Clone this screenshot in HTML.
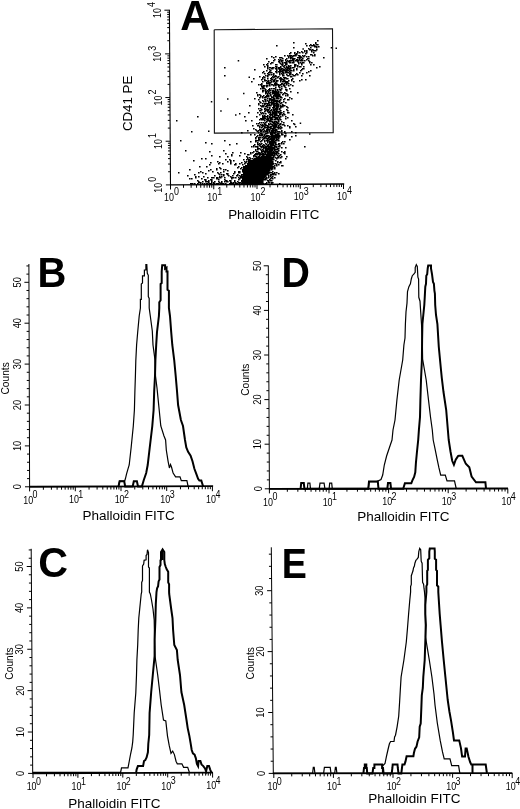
<!DOCTYPE html>
<html><head><meta charset="utf-8"><style>
html,body{margin:0;padding:0;background:#fff;}
svg{display:block;will-change:transform;}
</style></head><body>
<svg width="520" height="809" viewBox="0 0 520 809">
<rect width="520" height="809" fill="#fff"/>
<line x1="169.40" y1="9.80" x2="170.50" y2="184.90" stroke="#000" stroke-width="1.1"/>
<line x1="170.00" y1="184.90" x2="344.20" y2="184.00" stroke="#000" stroke-width="1.4"/>
<line x1="165.90" y1="184.90" x2="170.50" y2="184.90" stroke="#000" stroke-width="1.0"/>
<line x1="170.50" y1="184.90" x2="170.50" y2="189.50" stroke="#000" stroke-width="1.0"/>
<line x1="168.12" y1="171.75" x2="170.42" y2="171.75" stroke="#000" stroke-width="1.0"/>
<line x1="183.52" y1="184.83" x2="183.52" y2="187.83" stroke="#000" stroke-width="1.0"/>
<line x1="168.07" y1="164.06" x2="170.37" y2="164.06" stroke="#000" stroke-width="1.0"/>
<line x1="191.14" y1="184.79" x2="191.14" y2="187.79" stroke="#000" stroke-width="1.0"/>
<line x1="168.03" y1="158.61" x2="170.33" y2="158.61" stroke="#000" stroke-width="1.0"/>
<line x1="196.54" y1="184.77" x2="196.54" y2="187.77" stroke="#000" stroke-width="1.0"/>
<line x1="168.01" y1="154.37" x2="170.31" y2="154.37" stroke="#000" stroke-width="1.0"/>
<line x1="200.73" y1="184.74" x2="200.73" y2="187.74" stroke="#000" stroke-width="1.0"/>
<line x1="167.99" y1="150.91" x2="170.29" y2="150.91" stroke="#000" stroke-width="1.0"/>
<line x1="204.16" y1="184.73" x2="204.16" y2="187.73" stroke="#000" stroke-width="1.0"/>
<line x1="167.97" y1="147.99" x2="170.27" y2="147.99" stroke="#000" stroke-width="1.0"/>
<line x1="207.05" y1="184.71" x2="207.05" y2="187.71" stroke="#000" stroke-width="1.0"/>
<line x1="167.95" y1="145.46" x2="170.25" y2="145.46" stroke="#000" stroke-width="1.0"/>
<line x1="209.56" y1="184.70" x2="209.56" y2="187.70" stroke="#000" stroke-width="1.0"/>
<line x1="167.94" y1="143.22" x2="170.24" y2="143.22" stroke="#000" stroke-width="1.0"/>
<line x1="211.77" y1="184.69" x2="211.77" y2="187.69" stroke="#000" stroke-width="1.0"/>
<line x1="165.63" y1="141.22" x2="170.23" y2="141.22" stroke="#000" stroke-width="1.0"/>
<line x1="213.75" y1="184.68" x2="213.75" y2="189.28" stroke="#000" stroke-width="1.0"/>
<line x1="167.84" y1="128.08" x2="170.14" y2="128.08" stroke="#000" stroke-width="1.0"/>
<line x1="226.77" y1="184.61" x2="226.77" y2="187.61" stroke="#000" stroke-width="1.0"/>
<line x1="167.79" y1="120.39" x2="170.09" y2="120.39" stroke="#000" stroke-width="1.0"/>
<line x1="234.39" y1="184.57" x2="234.39" y2="187.57" stroke="#000" stroke-width="1.0"/>
<line x1="167.76" y1="114.93" x2="170.06" y2="114.93" stroke="#000" stroke-width="1.0"/>
<line x1="239.79" y1="184.54" x2="239.79" y2="187.54" stroke="#000" stroke-width="1.0"/>
<line x1="167.73" y1="110.70" x2="170.03" y2="110.70" stroke="#000" stroke-width="1.0"/>
<line x1="243.98" y1="184.52" x2="243.98" y2="187.52" stroke="#000" stroke-width="1.0"/>
<line x1="167.71" y1="107.24" x2="170.01" y2="107.24" stroke="#000" stroke-width="1.0"/>
<line x1="247.41" y1="184.50" x2="247.41" y2="187.50" stroke="#000" stroke-width="1.0"/>
<line x1="167.69" y1="104.32" x2="169.99" y2="104.32" stroke="#000" stroke-width="1.0"/>
<line x1="250.30" y1="184.49" x2="250.30" y2="187.49" stroke="#000" stroke-width="1.0"/>
<line x1="167.68" y1="101.78" x2="169.98" y2="101.78" stroke="#000" stroke-width="1.0"/>
<line x1="252.81" y1="184.47" x2="252.81" y2="187.47" stroke="#000" stroke-width="1.0"/>
<line x1="167.66" y1="99.55" x2="169.96" y2="99.55" stroke="#000" stroke-width="1.0"/>
<line x1="255.02" y1="184.46" x2="255.02" y2="187.46" stroke="#000" stroke-width="1.0"/>
<line x1="165.35" y1="97.55" x2="169.95" y2="97.55" stroke="#000" stroke-width="1.0"/>
<line x1="257.00" y1="184.45" x2="257.00" y2="189.05" stroke="#000" stroke-width="1.0"/>
<line x1="167.57" y1="84.40" x2="169.87" y2="84.40" stroke="#000" stroke-width="1.0"/>
<line x1="270.02" y1="184.38" x2="270.02" y2="187.38" stroke="#000" stroke-width="1.0"/>
<line x1="167.52" y1="76.71" x2="169.82" y2="76.71" stroke="#000" stroke-width="1.0"/>
<line x1="277.64" y1="184.34" x2="277.64" y2="187.34" stroke="#000" stroke-width="1.0"/>
<line x1="167.49" y1="71.26" x2="169.79" y2="71.26" stroke="#000" stroke-width="1.0"/>
<line x1="283.04" y1="184.32" x2="283.04" y2="187.32" stroke="#000" stroke-width="1.0"/>
<line x1="167.46" y1="67.02" x2="169.76" y2="67.02" stroke="#000" stroke-width="1.0"/>
<line x1="287.23" y1="184.30" x2="287.23" y2="187.30" stroke="#000" stroke-width="1.0"/>
<line x1="167.44" y1="63.56" x2="169.74" y2="63.56" stroke="#000" stroke-width="1.0"/>
<line x1="290.66" y1="184.28" x2="290.66" y2="187.28" stroke="#000" stroke-width="1.0"/>
<line x1="167.42" y1="60.64" x2="169.72" y2="60.64" stroke="#000" stroke-width="1.0"/>
<line x1="293.55" y1="184.26" x2="293.55" y2="187.26" stroke="#000" stroke-width="1.0"/>
<line x1="167.40" y1="58.11" x2="169.70" y2="58.11" stroke="#000" stroke-width="1.0"/>
<line x1="296.06" y1="184.25" x2="296.06" y2="187.25" stroke="#000" stroke-width="1.0"/>
<line x1="167.39" y1="55.87" x2="169.69" y2="55.87" stroke="#000" stroke-width="1.0"/>
<line x1="298.27" y1="184.24" x2="298.27" y2="187.24" stroke="#000" stroke-width="1.0"/>
<line x1="165.08" y1="53.88" x2="169.68" y2="53.88" stroke="#000" stroke-width="1.0"/>
<line x1="300.25" y1="184.23" x2="300.25" y2="188.83" stroke="#000" stroke-width="1.0"/>
<line x1="167.29" y1="40.73" x2="169.59" y2="40.73" stroke="#000" stroke-width="1.0"/>
<line x1="313.27" y1="184.16" x2="313.27" y2="187.16" stroke="#000" stroke-width="1.0"/>
<line x1="167.25" y1="33.04" x2="169.55" y2="33.04" stroke="#000" stroke-width="1.0"/>
<line x1="320.89" y1="184.12" x2="320.89" y2="187.12" stroke="#000" stroke-width="1.0"/>
<line x1="167.21" y1="27.58" x2="169.51" y2="27.58" stroke="#000" stroke-width="1.0"/>
<line x1="326.29" y1="184.09" x2="326.29" y2="187.09" stroke="#000" stroke-width="1.0"/>
<line x1="167.19" y1="23.35" x2="169.49" y2="23.35" stroke="#000" stroke-width="1.0"/>
<line x1="330.48" y1="184.07" x2="330.48" y2="187.07" stroke="#000" stroke-width="1.0"/>
<line x1="167.16" y1="19.89" x2="169.46" y2="19.89" stroke="#000" stroke-width="1.0"/>
<line x1="333.91" y1="184.05" x2="333.91" y2="187.05" stroke="#000" stroke-width="1.0"/>
<line x1="167.15" y1="16.97" x2="169.45" y2="16.97" stroke="#000" stroke-width="1.0"/>
<line x1="336.80" y1="184.04" x2="336.80" y2="187.04" stroke="#000" stroke-width="1.0"/>
<line x1="167.13" y1="14.43" x2="169.43" y2="14.43" stroke="#000" stroke-width="1.0"/>
<line x1="339.31" y1="184.03" x2="339.31" y2="187.03" stroke="#000" stroke-width="1.0"/>
<line x1="167.12" y1="12.20" x2="169.42" y2="12.20" stroke="#000" stroke-width="1.0"/>
<line x1="341.52" y1="184.01" x2="341.52" y2="187.01" stroke="#000" stroke-width="1.0"/>
<line x1="164.40" y1="10.20" x2="169.40" y2="10.20" stroke="#000" stroke-width="1.0"/>
<line x1="343.50" y1="184.00" x2="343.50" y2="189.00" stroke="#000" stroke-width="1.0"/>
<text transform="translate(162.10,187.80) rotate(-90) scale(0.85,1)" font-size="10.5" text-anchor="middle" font-weight="normal" fill="#000" font-family="'Liberation Sans', sans-serif">10</text>
<text transform="translate(156.40,181.80) rotate(-90) scale(0.85,1)" font-size="10.5" text-anchor="start" font-weight="normal" fill="#000" font-family="'Liberation Sans', sans-serif">0</text>
<text transform="translate(161.83,144.12) rotate(-90) scale(0.85,1)" font-size="10.5" text-anchor="middle" font-weight="normal" fill="#000" font-family="'Liberation Sans', sans-serif">10</text>
<text transform="translate(156.13,138.12) rotate(-90) scale(0.85,1)" font-size="10.5" text-anchor="start" font-weight="normal" fill="#000" font-family="'Liberation Sans', sans-serif">1</text>
<text transform="translate(161.55,100.45) rotate(-90) scale(0.85,1)" font-size="10.5" text-anchor="middle" font-weight="normal" fill="#000" font-family="'Liberation Sans', sans-serif">10</text>
<text transform="translate(155.85,94.45) rotate(-90) scale(0.85,1)" font-size="10.5" text-anchor="start" font-weight="normal" fill="#000" font-family="'Liberation Sans', sans-serif">2</text>
<text transform="translate(161.28,56.77) rotate(-90) scale(0.85,1)" font-size="10.5" text-anchor="middle" font-weight="normal" fill="#000" font-family="'Liberation Sans', sans-serif">10</text>
<text transform="translate(155.58,50.77) rotate(-90) scale(0.85,1)" font-size="10.5" text-anchor="start" font-weight="normal" fill="#000" font-family="'Liberation Sans', sans-serif">3</text>
<text transform="translate(161.00,13.10) rotate(-90) scale(0.85,1)" font-size="10.5" text-anchor="middle" font-weight="normal" fill="#000" font-family="'Liberation Sans', sans-serif">10</text>
<text transform="translate(155.30,7.10) rotate(-90) scale(0.85,1)" font-size="10.5" text-anchor="start" font-weight="normal" fill="#000" font-family="'Liberation Sans', sans-serif">4</text>
<text transform="translate(168.90,201.10) scale(0.85,1)" font-size="10.5" text-anchor="middle" font-weight="normal" fill="#000" font-family="'Liberation Sans', sans-serif">10</text>
<text transform="translate(173.90,195.30) scale(0.85,1)" font-size="10.5" text-anchor="start" font-weight="normal" fill="#000" font-family="'Liberation Sans', sans-serif">0</text>
<text transform="translate(212.15,200.88) scale(0.85,1)" font-size="10.5" text-anchor="middle" font-weight="normal" fill="#000" font-family="'Liberation Sans', sans-serif">10</text>
<text transform="translate(217.15,195.08) scale(0.85,1)" font-size="10.5" text-anchor="start" font-weight="normal" fill="#000" font-family="'Liberation Sans', sans-serif">1</text>
<text transform="translate(255.40,200.65) scale(0.85,1)" font-size="10.5" text-anchor="middle" font-weight="normal" fill="#000" font-family="'Liberation Sans', sans-serif">10</text>
<text transform="translate(260.40,194.85) scale(0.85,1)" font-size="10.5" text-anchor="start" font-weight="normal" fill="#000" font-family="'Liberation Sans', sans-serif">2</text>
<text transform="translate(298.65,200.43) scale(0.85,1)" font-size="10.5" text-anchor="middle" font-weight="normal" fill="#000" font-family="'Liberation Sans', sans-serif">10</text>
<text transform="translate(303.65,194.63) scale(0.85,1)" font-size="10.5" text-anchor="start" font-weight="normal" fill="#000" font-family="'Liberation Sans', sans-serif">3</text>
<text transform="translate(341.90,200.20) scale(0.85,1)" font-size="10.5" text-anchor="middle" font-weight="normal" fill="#000" font-family="'Liberation Sans', sans-serif">10</text>
<text transform="translate(346.90,194.40) scale(0.85,1)" font-size="10.5" text-anchor="start" font-weight="normal" fill="#000" font-family="'Liberation Sans', sans-serif">4</text>
<text transform="translate(228.20,219.20)" font-size="13.35" text-anchor="start" font-weight="normal" fill="#000" font-family="'Liberation Sans', sans-serif">Phalloidin FITC</text>
<text transform="translate(132.00,103.40) rotate(-90)" font-size="13.3" text-anchor="middle" font-weight="normal" fill="#000" font-family="'Liberation Sans', sans-serif">CD41 PE</text>
<text transform="translate(180.30,29.50) scale(0.96,1)" font-size="43" text-anchor="start" font-weight="bold" fill="#000" font-family="'Liberation Sans', sans-serif">A</text>
<polyline points="214.20,29.80 332.50,28.70 333.20,132.60 214.40,133.10 214.20,29.80" fill="none" stroke="#111" stroke-width="1.1" stroke-linejoin="miter"/>
<path d="M317 40h1.6v1.6h-1.6zM293 42h1.6v1.6h-1.6zM315 42h1.6v1.6h-1.6zM305 43h1.6v1.6h-1.6zM315 43h1.6v1.6h-1.6zM310 44h1.6v1.6h-1.6zM313 44h1.6v1.6h-1.6zM316 44h1.6v1.6h-1.6zM317 44h1.6v1.6h-1.6zM276 45h1.6v1.6h-1.6zM306 45h1.6v1.6h-1.6zM309 45h1.6v1.6h-1.6zM311 45h1.6v1.6h-1.6zM312 45h1.6v1.6h-1.6zM313 45h1.6v1.6h-1.6zM314 45h1.6v1.6h-1.6zM314 46h1.6v1.6h-1.6zM315 46h1.6v1.6h-1.6zM316 46h1.6v1.6h-1.6zM318 46h1.6v1.6h-1.6zM293 47h1.6v1.6h-1.6zM310 47h1.6v1.6h-1.6zM316 47h1.6v1.6h-1.6zM308 48h1.6v1.6h-1.6zM309 49h1.6v1.6h-1.6zM310 49h1.6v1.6h-1.6zM312 49h1.6v1.6h-1.6zM316 49h1.6v1.6h-1.6zM304 50h1.6v1.6h-1.6zM306 50h1.6v1.6h-1.6zM311 50h1.6v1.6h-1.6zM313 50h1.6v1.6h-1.6zM314 50h1.6v1.6h-1.6zM315 50h1.6v1.6h-1.6zM297 51h1.6v1.6h-1.6zM301 51h1.6v1.6h-1.6zM304 51h1.6v1.6h-1.6zM306 51h1.6v1.6h-1.6zM311 51h1.6v1.6h-1.6zM290 52h1.6v1.6h-1.6zM294 52h1.6v1.6h-1.6zM297 52h1.6v1.6h-1.6zM299 52h1.6v1.6h-1.6zM302 52h1.6v1.6h-1.6zM306 52h1.6v1.6h-1.6zM313 52h1.6v1.6h-1.6zM289 53h1.6v1.6h-1.6zM294 53h1.6v1.6h-1.6zM296 53h1.6v1.6h-1.6zM305 53h1.6v1.6h-1.6zM295 54h1.6v1.6h-1.6zM296 54h1.6v1.6h-1.6zM310 54h1.6v1.6h-1.6zM311 54h1.6v1.6h-1.6zM314 54h1.6v1.6h-1.6zM284 55h1.6v1.6h-1.6zM287 55h1.6v1.6h-1.6zM289 55h1.6v1.6h-1.6zM290 55h1.6v1.6h-1.6zM291 55h1.6v1.6h-1.6zM293 55h1.6v1.6h-1.6zM294 55h1.6v1.6h-1.6zM295 55h1.6v1.6h-1.6zM298 55h1.6v1.6h-1.6zM299 55h1.6v1.6h-1.6zM302 55h1.6v1.6h-1.6zM304 55h1.6v1.6h-1.6zM312 55h1.6v1.6h-1.6zM314 55h1.6v1.6h-1.6zM271 56h1.6v1.6h-1.6zM275 56h1.6v1.6h-1.6zM288 56h1.6v1.6h-1.6zM290 56h1.6v1.6h-1.6zM292 56h1.6v1.6h-1.6zM299 56h1.6v1.6h-1.6zM300 56h1.6v1.6h-1.6zM303 56h1.6v1.6h-1.6zM306 56h1.6v1.6h-1.6zM308 56h1.6v1.6h-1.6zM273 57h1.6v1.6h-1.6zM279 57h1.6v1.6h-1.6zM280 57h1.6v1.6h-1.6zM281 57h1.6v1.6h-1.6zM288 57h1.6v1.6h-1.6zM290 57h1.6v1.6h-1.6zM291 57h1.6v1.6h-1.6zM297 57h1.6v1.6h-1.6zM298 57h1.6v1.6h-1.6zM299 57h1.6v1.6h-1.6zM300 57h1.6v1.6h-1.6zM301 57h1.6v1.6h-1.6zM323 57h1.6v1.6h-1.6zM266 58h1.6v1.6h-1.6zM282 58h1.6v1.6h-1.6zM286 58h1.6v1.6h-1.6zM290 58h1.6v1.6h-1.6zM292 58h1.6v1.6h-1.6zM293 58h1.6v1.6h-1.6zM294 58h1.6v1.6h-1.6zM299 58h1.6v1.6h-1.6zM302 58h1.6v1.6h-1.6zM307 58h1.6v1.6h-1.6zM308 58h1.6v1.6h-1.6zM274 59h1.6v1.6h-1.6zM278 59h1.6v1.6h-1.6zM280 59h1.6v1.6h-1.6zM285 59h1.6v1.6h-1.6zM292 59h1.6v1.6h-1.6zM293 59h1.6v1.6h-1.6zM296 59h1.6v1.6h-1.6zM297 59h1.6v1.6h-1.6zM299 59h1.6v1.6h-1.6zM301 59h1.6v1.6h-1.6zM306 59h1.6v1.6h-1.6zM273 60h1.6v1.6h-1.6zM279 60h1.6v1.6h-1.6zM281 60h1.6v1.6h-1.6zM282 60h1.6v1.6h-1.6zM285 60h1.6v1.6h-1.6zM287 60h1.6v1.6h-1.6zM289 60h1.6v1.6h-1.6zM290 60h1.6v1.6h-1.6zM291 60h1.6v1.6h-1.6zM292 60h1.6v1.6h-1.6zM293 60h1.6v1.6h-1.6zM295 60h1.6v1.6h-1.6zM296 60h1.6v1.6h-1.6zM297 60h1.6v1.6h-1.6zM298 60h1.6v1.6h-1.6zM300 60h1.6v1.6h-1.6zM301 60h1.6v1.6h-1.6zM302 60h1.6v1.6h-1.6zM304 60h1.6v1.6h-1.6zM308 60h1.6v1.6h-1.6zM268 61h1.6v1.6h-1.6zM278 61h1.6v1.6h-1.6zM279 61h1.6v1.6h-1.6zM281 61h1.6v1.6h-1.6zM286 61h1.6v1.6h-1.6zM288 61h1.6v1.6h-1.6zM289 61h1.6v1.6h-1.6zM293 61h1.6v1.6h-1.6zM297 61h1.6v1.6h-1.6zM309 61h1.6v1.6h-1.6zM271 62h1.6v1.6h-1.6zM272 62h1.6v1.6h-1.6zM279 62h1.6v1.6h-1.6zM282 62h1.6v1.6h-1.6zM284 62h1.6v1.6h-1.6zM285 62h1.6v1.6h-1.6zM286 62h1.6v1.6h-1.6zM289 62h1.6v1.6h-1.6zM290 62h1.6v1.6h-1.6zM292 62h1.6v1.6h-1.6zM293 62h1.6v1.6h-1.6zM298 62h1.6v1.6h-1.6zM300 62h1.6v1.6h-1.6zM302 62h1.6v1.6h-1.6zM303 62h1.6v1.6h-1.6zM309 62h1.6v1.6h-1.6zM311 62h1.6v1.6h-1.6zM267 63h1.6v1.6h-1.6zM270 63h1.6v1.6h-1.6zM280 63h1.6v1.6h-1.6zM282 63h1.6v1.6h-1.6zM285 63h1.6v1.6h-1.6zM286 63h1.6v1.6h-1.6zM298 63h1.6v1.6h-1.6zM301 63h1.6v1.6h-1.6zM263 64h1.6v1.6h-1.6zM266 64h1.6v1.6h-1.6zM275 64h1.6v1.6h-1.6zM276 64h1.6v1.6h-1.6zM281 64h1.6v1.6h-1.6zM282 64h1.6v1.6h-1.6zM285 64h1.6v1.6h-1.6zM286 64h1.6v1.6h-1.6zM294 64h1.6v1.6h-1.6zM295 64h1.6v1.6h-1.6zM301 64h1.6v1.6h-1.6zM310 64h1.6v1.6h-1.6zM313 64h1.6v1.6h-1.6zM267 65h1.6v1.6h-1.6zM282 65h1.6v1.6h-1.6zM284 65h1.6v1.6h-1.6zM288 65h1.6v1.6h-1.6zM290 65h1.6v1.6h-1.6zM294 65h1.6v1.6h-1.6zM295 65h1.6v1.6h-1.6zM297 65h1.6v1.6h-1.6zM264 66h1.6v1.6h-1.6zM267 66h1.6v1.6h-1.6zM275 66h1.6v1.6h-1.6zM276 66h1.6v1.6h-1.6zM280 66h1.6v1.6h-1.6zM283 66h1.6v1.6h-1.6zM286 66h1.6v1.6h-1.6zM288 66h1.6v1.6h-1.6zM289 66h1.6v1.6h-1.6zM294 66h1.6v1.6h-1.6zM297 66h1.6v1.6h-1.6zM299 66h1.6v1.6h-1.6zM300 66h1.6v1.6h-1.6zM303 66h1.6v1.6h-1.6zM319 66h1.6v1.6h-1.6zM224 67h1.6v1.6h-1.6zM267 67h1.6v1.6h-1.6zM269 67h1.6v1.6h-1.6zM270 67h1.6v1.6h-1.6zM272 67h1.6v1.6h-1.6zM273 67h1.6v1.6h-1.6zM276 67h1.6v1.6h-1.6zM278 67h1.6v1.6h-1.6zM279 67h1.6v1.6h-1.6zM280 67h1.6v1.6h-1.6zM284 67h1.6v1.6h-1.6zM286 67h1.6v1.6h-1.6zM287 67h1.6v1.6h-1.6zM288 67h1.6v1.6h-1.6zM290 67h1.6v1.6h-1.6zM292 67h1.6v1.6h-1.6zM293 67h1.6v1.6h-1.6zM316 67h1.6v1.6h-1.6zM267 68h1.6v1.6h-1.6zM271 68h1.6v1.6h-1.6zM272 68h1.6v1.6h-1.6zM275 68h1.6v1.6h-1.6zM276 68h1.6v1.6h-1.6zM278 68h1.6v1.6h-1.6zM279 68h1.6v1.6h-1.6zM281 68h1.6v1.6h-1.6zM282 68h1.6v1.6h-1.6zM285 68h1.6v1.6h-1.6zM287 68h1.6v1.6h-1.6zM288 68h1.6v1.6h-1.6zM289 68h1.6v1.6h-1.6zM290 68h1.6v1.6h-1.6zM296 68h1.6v1.6h-1.6zM302 68h1.6v1.6h-1.6zM303 68h1.6v1.6h-1.6zM254 69h1.6v1.6h-1.6zM269 69h1.6v1.6h-1.6zM276 69h1.6v1.6h-1.6zM279 69h1.6v1.6h-1.6zM280 69h1.6v1.6h-1.6zM281 69h1.6v1.6h-1.6zM283 69h1.6v1.6h-1.6zM284 69h1.6v1.6h-1.6zM286 69h1.6v1.6h-1.6zM287 69h1.6v1.6h-1.6zM289 69h1.6v1.6h-1.6zM293 69h1.6v1.6h-1.6zM296 69h1.6v1.6h-1.6zM301 69h1.6v1.6h-1.6zM266 70h1.6v1.6h-1.6zM270 70h1.6v1.6h-1.6zM276 70h1.6v1.6h-1.6zM279 70h1.6v1.6h-1.6zM280 70h1.6v1.6h-1.6zM282 70h1.6v1.6h-1.6zM283 70h1.6v1.6h-1.6zM284 70h1.6v1.6h-1.6zM285 70h1.6v1.6h-1.6zM286 70h1.6v1.6h-1.6zM287 70h1.6v1.6h-1.6zM288 70h1.6v1.6h-1.6zM290 70h1.6v1.6h-1.6zM291 70h1.6v1.6h-1.6zM293 70h1.6v1.6h-1.6zM300 70h1.6v1.6h-1.6zM310 70h1.6v1.6h-1.6zM263 71h1.6v1.6h-1.6zM269 71h1.6v1.6h-1.6zM275 71h1.6v1.6h-1.6zM276 71h1.6v1.6h-1.6zM278 71h1.6v1.6h-1.6zM279 71h1.6v1.6h-1.6zM280 71h1.6v1.6h-1.6zM281 71h1.6v1.6h-1.6zM282 71h1.6v1.6h-1.6zM285 71h1.6v1.6h-1.6zM286 71h1.6v1.6h-1.6zM289 71h1.6v1.6h-1.6zM308 71h1.6v1.6h-1.6zM262 72h1.6v1.6h-1.6zM268 72h1.6v1.6h-1.6zM269 72h1.6v1.6h-1.6zM270 72h1.6v1.6h-1.6zM271 72h1.6v1.6h-1.6zM276 72h1.6v1.6h-1.6zM279 72h1.6v1.6h-1.6zM282 72h1.6v1.6h-1.6zM283 72h1.6v1.6h-1.6zM285 72h1.6v1.6h-1.6zM286 72h1.6v1.6h-1.6zM287 72h1.6v1.6h-1.6zM288 72h1.6v1.6h-1.6zM290 72h1.6v1.6h-1.6zM299 72h1.6v1.6h-1.6zM306 72h1.6v1.6h-1.6zM264 73h1.6v1.6h-1.6zM267 73h1.6v1.6h-1.6zM273 73h1.6v1.6h-1.6zM279 73h1.6v1.6h-1.6zM281 73h1.6v1.6h-1.6zM283 73h1.6v1.6h-1.6zM289 73h1.6v1.6h-1.6zM290 73h1.6v1.6h-1.6zM296 73h1.6v1.6h-1.6zM302 73h1.6v1.6h-1.6zM268 74h1.6v1.6h-1.6zM269 74h1.6v1.6h-1.6zM271 74h1.6v1.6h-1.6zM273 74h1.6v1.6h-1.6zM279 74h1.6v1.6h-1.6zM282 74h1.6v1.6h-1.6zM286 74h1.6v1.6h-1.6zM289 74h1.6v1.6h-1.6zM290 74h1.6v1.6h-1.6zM292 74h1.6v1.6h-1.6zM295 74h1.6v1.6h-1.6zM297 74h1.6v1.6h-1.6zM224 75h1.6v1.6h-1.6zM265 75h1.6v1.6h-1.6zM267 75h1.6v1.6h-1.6zM273 75h1.6v1.6h-1.6zM275 75h1.6v1.6h-1.6zM282 75h1.6v1.6h-1.6zM283 75h1.6v1.6h-1.6zM287 75h1.6v1.6h-1.6zM288 75h1.6v1.6h-1.6zM293 75h1.6v1.6h-1.6zM294 75h1.6v1.6h-1.6zM301 75h1.6v1.6h-1.6zM309 75h1.6v1.6h-1.6zM259 76h1.6v1.6h-1.6zM263 76h1.6v1.6h-1.6zM267 76h1.6v1.6h-1.6zM272 76h1.6v1.6h-1.6zM274 76h1.6v1.6h-1.6zM275 76h1.6v1.6h-1.6zM276 76h1.6v1.6h-1.6zM278 76h1.6v1.6h-1.6zM290 76h1.6v1.6h-1.6zM291 76h1.6v1.6h-1.6zM262 77h1.6v1.6h-1.6zM264 77h1.6v1.6h-1.6zM271 77h1.6v1.6h-1.6zM273 77h1.6v1.6h-1.6zM277 77h1.6v1.6h-1.6zM280 77h1.6v1.6h-1.6zM283 77h1.6v1.6h-1.6zM284 77h1.6v1.6h-1.6zM285 77h1.6v1.6h-1.6zM253 78h1.6v1.6h-1.6zM262 78h1.6v1.6h-1.6zM267 78h1.6v1.6h-1.6zM270 78h1.6v1.6h-1.6zM271 78h1.6v1.6h-1.6zM275 78h1.6v1.6h-1.6zM279 78h1.6v1.6h-1.6zM280 78h1.6v1.6h-1.6zM281 78h1.6v1.6h-1.6zM284 78h1.6v1.6h-1.6zM286 78h1.6v1.6h-1.6zM287 78h1.6v1.6h-1.6zM292 78h1.6v1.6h-1.6zM261 79h1.6v1.6h-1.6zM264 79h1.6v1.6h-1.6zM271 79h1.6v1.6h-1.6zM272 79h1.6v1.6h-1.6zM274 79h1.6v1.6h-1.6zM280 79h1.6v1.6h-1.6zM281 79h1.6v1.6h-1.6zM282 79h1.6v1.6h-1.6zM283 79h1.6v1.6h-1.6zM291 79h1.6v1.6h-1.6zM301 79h1.6v1.6h-1.6zM305 79h1.6v1.6h-1.6zM264 80h1.6v1.6h-1.6zM265 80h1.6v1.6h-1.6zM266 80h1.6v1.6h-1.6zM268 80h1.6v1.6h-1.6zM270 80h1.6v1.6h-1.6zM273 80h1.6v1.6h-1.6zM274 80h1.6v1.6h-1.6zM276 80h1.6v1.6h-1.6zM277 80h1.6v1.6h-1.6zM280 80h1.6v1.6h-1.6zM283 80h1.6v1.6h-1.6zM284 80h1.6v1.6h-1.6zM288 80h1.6v1.6h-1.6zM291 80h1.6v1.6h-1.6zM299 80h1.6v1.6h-1.6zM251 81h1.6v1.6h-1.6zM262 81h1.6v1.6h-1.6zM267 81h1.6v1.6h-1.6zM268 81h1.6v1.6h-1.6zM271 81h1.6v1.6h-1.6zM273 81h1.6v1.6h-1.6zM274 81h1.6v1.6h-1.6zM276 81h1.6v1.6h-1.6zM280 81h1.6v1.6h-1.6zM282 81h1.6v1.6h-1.6zM283 81h1.6v1.6h-1.6zM284 81h1.6v1.6h-1.6zM285 81h1.6v1.6h-1.6zM286 81h1.6v1.6h-1.6zM287 81h1.6v1.6h-1.6zM293 81h1.6v1.6h-1.6zM266 82h1.6v1.6h-1.6zM268 82h1.6v1.6h-1.6zM269 82h1.6v1.6h-1.6zM270 82h1.6v1.6h-1.6zM275 82h1.6v1.6h-1.6zM285 82h1.6v1.6h-1.6zM286 82h1.6v1.6h-1.6zM287 82h1.6v1.6h-1.6zM261 83h1.6v1.6h-1.6zM266 83h1.6v1.6h-1.6zM267 83h1.6v1.6h-1.6zM268 83h1.6v1.6h-1.6zM269 83h1.6v1.6h-1.6zM274 83h1.6v1.6h-1.6zM275 83h1.6v1.6h-1.6zM276 83h1.6v1.6h-1.6zM281 83h1.6v1.6h-1.6zM282 83h1.6v1.6h-1.6zM284 83h1.6v1.6h-1.6zM286 83h1.6v1.6h-1.6zM288 83h1.6v1.6h-1.6zM258 84h1.6v1.6h-1.6zM260 84h1.6v1.6h-1.6zM261 84h1.6v1.6h-1.6zM269 84h1.6v1.6h-1.6zM271 84h1.6v1.6h-1.6zM272 84h1.6v1.6h-1.6zM274 84h1.6v1.6h-1.6zM275 84h1.6v1.6h-1.6zM276 84h1.6v1.6h-1.6zM277 84h1.6v1.6h-1.6zM278 84h1.6v1.6h-1.6zM280 84h1.6v1.6h-1.6zM281 84h1.6v1.6h-1.6zM283 84h1.6v1.6h-1.6zM286 84h1.6v1.6h-1.6zM290 84h1.6v1.6h-1.6zM261 85h1.6v1.6h-1.6zM263 85h1.6v1.6h-1.6zM264 85h1.6v1.6h-1.6zM266 85h1.6v1.6h-1.6zM267 85h1.6v1.6h-1.6zM269 85h1.6v1.6h-1.6zM273 85h1.6v1.6h-1.6zM275 85h1.6v1.6h-1.6zM278 85h1.6v1.6h-1.6zM279 85h1.6v1.6h-1.6zM283 85h1.6v1.6h-1.6zM284 85h1.6v1.6h-1.6zM288 85h1.6v1.6h-1.6zM292 85h1.6v1.6h-1.6zM261 86h1.6v1.6h-1.6zM262 86h1.6v1.6h-1.6zM263 86h1.6v1.6h-1.6zM266 86h1.6v1.6h-1.6zM278 86h1.6v1.6h-1.6zM281 86h1.6v1.6h-1.6zM284 86h1.6v1.6h-1.6zM262 87h1.6v1.6h-1.6zM263 87h1.6v1.6h-1.6zM275 87h1.6v1.6h-1.6zM279 87h1.6v1.6h-1.6zM285 87h1.6v1.6h-1.6zM260 88h1.6v1.6h-1.6zM262 88h1.6v1.6h-1.6zM263 88h1.6v1.6h-1.6zM264 88h1.6v1.6h-1.6zM269 88h1.6v1.6h-1.6zM271 88h1.6v1.6h-1.6zM273 88h1.6v1.6h-1.6zM274 88h1.6v1.6h-1.6zM281 88h1.6v1.6h-1.6zM289 88h1.6v1.6h-1.6zM265 89h1.6v1.6h-1.6zM268 89h1.6v1.6h-1.6zM269 89h1.6v1.6h-1.6zM275 89h1.6v1.6h-1.6zM277 89h1.6v1.6h-1.6zM279 89h1.6v1.6h-1.6zM280 89h1.6v1.6h-1.6zM285 89h1.6v1.6h-1.6zM286 89h1.6v1.6h-1.6zM262 90h1.6v1.6h-1.6zM263 90h1.6v1.6h-1.6zM265 90h1.6v1.6h-1.6zM267 90h1.6v1.6h-1.6zM269 90h1.6v1.6h-1.6zM270 90h1.6v1.6h-1.6zM272 90h1.6v1.6h-1.6zM273 90h1.6v1.6h-1.6zM275 90h1.6v1.6h-1.6zM277 90h1.6v1.6h-1.6zM280 90h1.6v1.6h-1.6zM286 90h1.6v1.6h-1.6zM262 91h1.6v1.6h-1.6zM265 91h1.6v1.6h-1.6zM266 91h1.6v1.6h-1.6zM268 91h1.6v1.6h-1.6zM272 91h1.6v1.6h-1.6zM273 91h1.6v1.6h-1.6zM274 91h1.6v1.6h-1.6zM275 91h1.6v1.6h-1.6zM276 91h1.6v1.6h-1.6zM278 91h1.6v1.6h-1.6zM290 91h1.6v1.6h-1.6zM256 92h1.6v1.6h-1.6zM265 92h1.6v1.6h-1.6zM266 92h1.6v1.6h-1.6zM268 92h1.6v1.6h-1.6zM270 92h1.6v1.6h-1.6zM272 92h1.6v1.6h-1.6zM273 92h1.6v1.6h-1.6zM274 92h1.6v1.6h-1.6zM275 92h1.6v1.6h-1.6zM276 92h1.6v1.6h-1.6zM277 92h1.6v1.6h-1.6zM278 92h1.6v1.6h-1.6zM280 92h1.6v1.6h-1.6zM281 92h1.6v1.6h-1.6zM284 92h1.6v1.6h-1.6zM297 92h1.6v1.6h-1.6zM265 93h1.6v1.6h-1.6zM267 93h1.6v1.6h-1.6zM269 93h1.6v1.6h-1.6zM272 93h1.6v1.6h-1.6zM273 93h1.6v1.6h-1.6zM274 93h1.6v1.6h-1.6zM275 93h1.6v1.6h-1.6zM276 93h1.6v1.6h-1.6zM277 93h1.6v1.6h-1.6zM278 93h1.6v1.6h-1.6zM283 93h1.6v1.6h-1.6zM285 93h1.6v1.6h-1.6zM286 93h1.6v1.6h-1.6zM257 94h1.6v1.6h-1.6zM259 94h1.6v1.6h-1.6zM267 94h1.6v1.6h-1.6zM270 94h1.6v1.6h-1.6zM274 94h1.6v1.6h-1.6zM275 94h1.6v1.6h-1.6zM276 94h1.6v1.6h-1.6zM277 94h1.6v1.6h-1.6zM278 94h1.6v1.6h-1.6zM279 94h1.6v1.6h-1.6zM282 94h1.6v1.6h-1.6zM287 94h1.6v1.6h-1.6zM257 95h1.6v1.6h-1.6zM260 95h1.6v1.6h-1.6zM263 95h1.6v1.6h-1.6zM266 95h1.6v1.6h-1.6zM267 95h1.6v1.6h-1.6zM268 95h1.6v1.6h-1.6zM270 95h1.6v1.6h-1.6zM273 95h1.6v1.6h-1.6zM274 95h1.6v1.6h-1.6zM275 95h1.6v1.6h-1.6zM276 95h1.6v1.6h-1.6zM277 95h1.6v1.6h-1.6zM278 95h1.6v1.6h-1.6zM279 95h1.6v1.6h-1.6zM285 95h1.6v1.6h-1.6zM287 95h1.6v1.6h-1.6zM260 96h1.6v1.6h-1.6zM262 96h1.6v1.6h-1.6zM265 96h1.6v1.6h-1.6zM266 96h1.6v1.6h-1.6zM267 96h1.6v1.6h-1.6zM268 96h1.6v1.6h-1.6zM271 96h1.6v1.6h-1.6zM273 96h1.6v1.6h-1.6zM275 96h1.6v1.6h-1.6zM276 96h1.6v1.6h-1.6zM277 96h1.6v1.6h-1.6zM278 96h1.6v1.6h-1.6zM279 96h1.6v1.6h-1.6zM280 96h1.6v1.6h-1.6zM259 97h1.6v1.6h-1.6zM262 97h1.6v1.6h-1.6zM264 97h1.6v1.6h-1.6zM265 97h1.6v1.6h-1.6zM271 97h1.6v1.6h-1.6zM272 97h1.6v1.6h-1.6zM273 97h1.6v1.6h-1.6zM276 97h1.6v1.6h-1.6zM277 97h1.6v1.6h-1.6zM280 97h1.6v1.6h-1.6zM281 97h1.6v1.6h-1.6zM289 97h1.6v1.6h-1.6zM254 98h1.6v1.6h-1.6zM267 98h1.6v1.6h-1.6zM269 98h1.6v1.6h-1.6zM270 98h1.6v1.6h-1.6zM273 98h1.6v1.6h-1.6zM274 98h1.6v1.6h-1.6zM276 98h1.6v1.6h-1.6zM277 98h1.6v1.6h-1.6zM278 98h1.6v1.6h-1.6zM284 98h1.6v1.6h-1.6zM291 98h1.6v1.6h-1.6zM258 99h1.6v1.6h-1.6zM264 99h1.6v1.6h-1.6zM265 99h1.6v1.6h-1.6zM269 99h1.6v1.6h-1.6zM270 99h1.6v1.6h-1.6zM271 99h1.6v1.6h-1.6zM272 99h1.6v1.6h-1.6zM273 99h1.6v1.6h-1.6zM274 99h1.6v1.6h-1.6zM280 99h1.6v1.6h-1.6zM283 99h1.6v1.6h-1.6zM287 99h1.6v1.6h-1.6zM288 99h1.6v1.6h-1.6zM262 100h1.6v1.6h-1.6zM265 100h1.6v1.6h-1.6zM267 100h1.6v1.6h-1.6zM269 100h1.6v1.6h-1.6zM271 100h1.6v1.6h-1.6zM272 100h1.6v1.6h-1.6zM273 100h1.6v1.6h-1.6zM274 100h1.6v1.6h-1.6zM275 100h1.6v1.6h-1.6zM276 100h1.6v1.6h-1.6zM277 100h1.6v1.6h-1.6zM279 100h1.6v1.6h-1.6zM259 101h1.6v1.6h-1.6zM263 101h1.6v1.6h-1.6zM265 101h1.6v1.6h-1.6zM268 101h1.6v1.6h-1.6zM271 101h1.6v1.6h-1.6zM273 101h1.6v1.6h-1.6zM274 101h1.6v1.6h-1.6zM275 101h1.6v1.6h-1.6zM276 101h1.6v1.6h-1.6zM277 101h1.6v1.6h-1.6zM278 101h1.6v1.6h-1.6zM279 101h1.6v1.6h-1.6zM283 101h1.6v1.6h-1.6zM260 102h1.6v1.6h-1.6zM268 102h1.6v1.6h-1.6zM269 102h1.6v1.6h-1.6zM270 102h1.6v1.6h-1.6zM271 102h1.6v1.6h-1.6zM272 102h1.6v1.6h-1.6zM273 102h1.6v1.6h-1.6zM276 102h1.6v1.6h-1.6zM279 102h1.6v1.6h-1.6zM281 102h1.6v1.6h-1.6zM285 102h1.6v1.6h-1.6zM258 103h1.6v1.6h-1.6zM262 103h1.6v1.6h-1.6zM264 103h1.6v1.6h-1.6zM265 103h1.6v1.6h-1.6zM266 103h1.6v1.6h-1.6zM267 103h1.6v1.6h-1.6zM268 103h1.6v1.6h-1.6zM271 103h1.6v1.6h-1.6zM272 103h1.6v1.6h-1.6zM273 103h1.6v1.6h-1.6zM274 103h1.6v1.6h-1.6zM275 103h1.6v1.6h-1.6zM276 103h1.6v1.6h-1.6zM277 103h1.6v1.6h-1.6zM280 103h1.6v1.6h-1.6zM258 104h1.6v1.6h-1.6zM264 104h1.6v1.6h-1.6zM267 104h1.6v1.6h-1.6zM269 104h1.6v1.6h-1.6zM271 104h1.6v1.6h-1.6zM273 104h1.6v1.6h-1.6zM274 104h1.6v1.6h-1.6zM276 104h1.6v1.6h-1.6zM277 104h1.6v1.6h-1.6zM278 104h1.6v1.6h-1.6zM282 104h1.6v1.6h-1.6zM249 105h1.6v1.6h-1.6zM260 105h1.6v1.6h-1.6zM262 105h1.6v1.6h-1.6zM263 105h1.6v1.6h-1.6zM266 105h1.6v1.6h-1.6zM267 105h1.6v1.6h-1.6zM268 105h1.6v1.6h-1.6zM269 105h1.6v1.6h-1.6zM270 105h1.6v1.6h-1.6zM273 105h1.6v1.6h-1.6zM274 105h1.6v1.6h-1.6zM275 105h1.6v1.6h-1.6zM276 105h1.6v1.6h-1.6zM277 105h1.6v1.6h-1.6zM278 105h1.6v1.6h-1.6zM280 105h1.6v1.6h-1.6zM282 105h1.6v1.6h-1.6zM283 105h1.6v1.6h-1.6zM284 105h1.6v1.6h-1.6zM261 106h1.6v1.6h-1.6zM262 106h1.6v1.6h-1.6zM263 106h1.6v1.6h-1.6zM265 106h1.6v1.6h-1.6zM266 106h1.6v1.6h-1.6zM273 106h1.6v1.6h-1.6zM274 106h1.6v1.6h-1.6zM276 106h1.6v1.6h-1.6zM277 106h1.6v1.6h-1.6zM278 106h1.6v1.6h-1.6zM280 106h1.6v1.6h-1.6zM281 106h1.6v1.6h-1.6zM282 106h1.6v1.6h-1.6zM286 106h1.6v1.6h-1.6zM267 107h1.6v1.6h-1.6zM269 107h1.6v1.6h-1.6zM272 107h1.6v1.6h-1.6zM273 107h1.6v1.6h-1.6zM274 107h1.6v1.6h-1.6zM276 107h1.6v1.6h-1.6zM277 107h1.6v1.6h-1.6zM280 107h1.6v1.6h-1.6zM287 107h1.6v1.6h-1.6zM258 108h1.6v1.6h-1.6zM260 108h1.6v1.6h-1.6zM264 108h1.6v1.6h-1.6zM265 108h1.6v1.6h-1.6zM269 108h1.6v1.6h-1.6zM273 108h1.6v1.6h-1.6zM275 108h1.6v1.6h-1.6zM276 108h1.6v1.6h-1.6zM277 108h1.6v1.6h-1.6zM279 108h1.6v1.6h-1.6zM261 109h1.6v1.6h-1.6zM264 109h1.6v1.6h-1.6zM266 109h1.6v1.6h-1.6zM267 109h1.6v1.6h-1.6zM268 109h1.6v1.6h-1.6zM271 109h1.6v1.6h-1.6zM273 109h1.6v1.6h-1.6zM274 109h1.6v1.6h-1.6zM275 109h1.6v1.6h-1.6zM276 109h1.6v1.6h-1.6zM277 109h1.6v1.6h-1.6zM279 109h1.6v1.6h-1.6zM286 109h1.6v1.6h-1.6zM259 110h1.6v1.6h-1.6zM260 110h1.6v1.6h-1.6zM265 110h1.6v1.6h-1.6zM267 110h1.6v1.6h-1.6zM268 110h1.6v1.6h-1.6zM270 110h1.6v1.6h-1.6zM271 110h1.6v1.6h-1.6zM273 110h1.6v1.6h-1.6zM274 110h1.6v1.6h-1.6zM276 110h1.6v1.6h-1.6zM280 110h1.6v1.6h-1.6zM287 110h1.6v1.6h-1.6zM264 111h1.6v1.6h-1.6zM267 111h1.6v1.6h-1.6zM269 111h1.6v1.6h-1.6zM272 111h1.6v1.6h-1.6zM274 111h1.6v1.6h-1.6zM275 111h1.6v1.6h-1.6zM276 111h1.6v1.6h-1.6zM277 111h1.6v1.6h-1.6zM278 111h1.6v1.6h-1.6zM279 111h1.6v1.6h-1.6zM283 111h1.6v1.6h-1.6zM248 112h1.6v1.6h-1.6zM257 112h1.6v1.6h-1.6zM260 112h1.6v1.6h-1.6zM262 112h1.6v1.6h-1.6zM268 112h1.6v1.6h-1.6zM269 112h1.6v1.6h-1.6zM270 112h1.6v1.6h-1.6zM272 112h1.6v1.6h-1.6zM273 112h1.6v1.6h-1.6zM274 112h1.6v1.6h-1.6zM275 112h1.6v1.6h-1.6zM276 112h1.6v1.6h-1.6zM278 112h1.6v1.6h-1.6zM280 112h1.6v1.6h-1.6zM281 112h1.6v1.6h-1.6zM287 112h1.6v1.6h-1.6zM288 112h1.6v1.6h-1.6zM261 113h1.6v1.6h-1.6zM263 113h1.6v1.6h-1.6zM265 113h1.6v1.6h-1.6zM270 113h1.6v1.6h-1.6zM272 113h1.6v1.6h-1.6zM273 113h1.6v1.6h-1.6zM274 113h1.6v1.6h-1.6zM275 113h1.6v1.6h-1.6zM276 113h1.6v1.6h-1.6zM279 113h1.6v1.6h-1.6zM280 113h1.6v1.6h-1.6zM283 113h1.6v1.6h-1.6zM259 114h1.6v1.6h-1.6zM269 114h1.6v1.6h-1.6zM270 114h1.6v1.6h-1.6zM271 114h1.6v1.6h-1.6zM272 114h1.6v1.6h-1.6zM274 114h1.6v1.6h-1.6zM275 114h1.6v1.6h-1.6zM276 114h1.6v1.6h-1.6zM279 114h1.6v1.6h-1.6zM280 114h1.6v1.6h-1.6zM282 114h1.6v1.6h-1.6zM284 114h1.6v1.6h-1.6zM292 114h1.6v1.6h-1.6zM262 115h1.6v1.6h-1.6zM264 115h1.6v1.6h-1.6zM267 115h1.6v1.6h-1.6zM270 115h1.6v1.6h-1.6zM272 115h1.6v1.6h-1.6zM274 115h1.6v1.6h-1.6zM275 115h1.6v1.6h-1.6zM276 115h1.6v1.6h-1.6zM277 115h1.6v1.6h-1.6zM278 115h1.6v1.6h-1.6zM282 115h1.6v1.6h-1.6zM197 116h1.6v1.6h-1.6zM244 116h1.6v1.6h-1.6zM256 116h1.6v1.6h-1.6zM262 116h1.6v1.6h-1.6zM263 116h1.6v1.6h-1.6zM264 116h1.6v1.6h-1.6zM265 116h1.6v1.6h-1.6zM266 116h1.6v1.6h-1.6zM267 116h1.6v1.6h-1.6zM269 116h1.6v1.6h-1.6zM272 116h1.6v1.6h-1.6zM273 116h1.6v1.6h-1.6zM274 116h1.6v1.6h-1.6zM278 116h1.6v1.6h-1.6zM280 116h1.6v1.6h-1.6zM285 116h1.6v1.6h-1.6zM262 117h1.6v1.6h-1.6zM263 117h1.6v1.6h-1.6zM264 117h1.6v1.6h-1.6zM267 117h1.6v1.6h-1.6zM269 117h1.6v1.6h-1.6zM270 117h1.6v1.6h-1.6zM271 117h1.6v1.6h-1.6zM272 117h1.6v1.6h-1.6zM274 117h1.6v1.6h-1.6zM275 117h1.6v1.6h-1.6zM276 117h1.6v1.6h-1.6zM277 117h1.6v1.6h-1.6zM279 117h1.6v1.6h-1.6zM287 117h1.6v1.6h-1.6zM260 118h1.6v1.6h-1.6zM261 118h1.6v1.6h-1.6zM262 118h1.6v1.6h-1.6zM263 118h1.6v1.6h-1.6zM264 118h1.6v1.6h-1.6zM265 118h1.6v1.6h-1.6zM267 118h1.6v1.6h-1.6zM268 118h1.6v1.6h-1.6zM270 118h1.6v1.6h-1.6zM271 118h1.6v1.6h-1.6zM275 118h1.6v1.6h-1.6zM276 118h1.6v1.6h-1.6zM277 118h1.6v1.6h-1.6zM279 118h1.6v1.6h-1.6zM285 118h1.6v1.6h-1.6zM259 119h1.6v1.6h-1.6zM261 119h1.6v1.6h-1.6zM262 119h1.6v1.6h-1.6zM263 119h1.6v1.6h-1.6zM266 119h1.6v1.6h-1.6zM267 119h1.6v1.6h-1.6zM268 119h1.6v1.6h-1.6zM270 119h1.6v1.6h-1.6zM271 119h1.6v1.6h-1.6zM272 119h1.6v1.6h-1.6zM274 119h1.6v1.6h-1.6zM275 119h1.6v1.6h-1.6zM277 119h1.6v1.6h-1.6zM278 119h1.6v1.6h-1.6zM280 119h1.6v1.6h-1.6zM245 120h1.6v1.6h-1.6zM251 120h1.6v1.6h-1.6zM264 120h1.6v1.6h-1.6zM267 120h1.6v1.6h-1.6zM268 120h1.6v1.6h-1.6zM269 120h1.6v1.6h-1.6zM270 120h1.6v1.6h-1.6zM278 120h1.6v1.6h-1.6zM291 120h1.6v1.6h-1.6zM266 121h1.6v1.6h-1.6zM269 121h1.6v1.6h-1.6zM270 121h1.6v1.6h-1.6zM271 121h1.6v1.6h-1.6zM272 121h1.6v1.6h-1.6zM274 121h1.6v1.6h-1.6zM275 121h1.6v1.6h-1.6zM276 121h1.6v1.6h-1.6zM278 121h1.6v1.6h-1.6zM281 121h1.6v1.6h-1.6zM259 122h1.6v1.6h-1.6zM261 122h1.6v1.6h-1.6zM263 122h1.6v1.6h-1.6zM265 122h1.6v1.6h-1.6zM272 122h1.6v1.6h-1.6zM273 122h1.6v1.6h-1.6zM274 122h1.6v1.6h-1.6zM276 122h1.6v1.6h-1.6zM277 122h1.6v1.6h-1.6zM283 122h1.6v1.6h-1.6zM256 123h1.6v1.6h-1.6zM258 123h1.6v1.6h-1.6zM264 123h1.6v1.6h-1.6zM268 123h1.6v1.6h-1.6zM270 123h1.6v1.6h-1.6zM273 123h1.6v1.6h-1.6zM274 123h1.6v1.6h-1.6zM275 123h1.6v1.6h-1.6zM277 123h1.6v1.6h-1.6zM278 123h1.6v1.6h-1.6zM280 123h1.6v1.6h-1.6zM293 123h1.6v1.6h-1.6zM260 124h1.6v1.6h-1.6zM262 124h1.6v1.6h-1.6zM264 124h1.6v1.6h-1.6zM265 124h1.6v1.6h-1.6zM268 124h1.6v1.6h-1.6zM269 124h1.6v1.6h-1.6zM271 124h1.6v1.6h-1.6zM272 124h1.6v1.6h-1.6zM274 124h1.6v1.6h-1.6zM275 124h1.6v1.6h-1.6zM276 124h1.6v1.6h-1.6zM279 124h1.6v1.6h-1.6zM280 124h1.6v1.6h-1.6zM282 124h1.6v1.6h-1.6zM283 124h1.6v1.6h-1.6zM252 125h1.6v1.6h-1.6zM257 125h1.6v1.6h-1.6zM258 125h1.6v1.6h-1.6zM261 125h1.6v1.6h-1.6zM262 125h1.6v1.6h-1.6zM263 125h1.6v1.6h-1.6zM265 125h1.6v1.6h-1.6zM266 125h1.6v1.6h-1.6zM267 125h1.6v1.6h-1.6zM272 125h1.6v1.6h-1.6zM273 125h1.6v1.6h-1.6zM274 125h1.6v1.6h-1.6zM275 125h1.6v1.6h-1.6zM276 125h1.6v1.6h-1.6zM278 125h1.6v1.6h-1.6zM284 125h1.6v1.6h-1.6zM287 125h1.6v1.6h-1.6zM259 126h1.6v1.6h-1.6zM262 126h1.6v1.6h-1.6zM264 126h1.6v1.6h-1.6zM267 126h1.6v1.6h-1.6zM268 126h1.6v1.6h-1.6zM270 126h1.6v1.6h-1.6zM271 126h1.6v1.6h-1.6zM273 126h1.6v1.6h-1.6zM274 126h1.6v1.6h-1.6zM275 126h1.6v1.6h-1.6zM276 126h1.6v1.6h-1.6zM278 126h1.6v1.6h-1.6zM280 126h1.6v1.6h-1.6zM289 126h1.6v1.6h-1.6zM295 126h1.6v1.6h-1.6zM259 127h1.6v1.6h-1.6zM261 127h1.6v1.6h-1.6zM264 127h1.6v1.6h-1.6zM265 127h1.6v1.6h-1.6zM266 127h1.6v1.6h-1.6zM267 127h1.6v1.6h-1.6zM268 127h1.6v1.6h-1.6zM269 127h1.6v1.6h-1.6zM270 127h1.6v1.6h-1.6zM273 127h1.6v1.6h-1.6zM274 127h1.6v1.6h-1.6zM275 127h1.6v1.6h-1.6zM277 127h1.6v1.6h-1.6zM278 127h1.6v1.6h-1.6zM279 127h1.6v1.6h-1.6zM281 127h1.6v1.6h-1.6zM289 127h1.6v1.6h-1.6zM253 128h1.6v1.6h-1.6zM263 128h1.6v1.6h-1.6zM267 128h1.6v1.6h-1.6zM270 128h1.6v1.6h-1.6zM271 128h1.6v1.6h-1.6zM272 128h1.6v1.6h-1.6zM273 128h1.6v1.6h-1.6zM274 128h1.6v1.6h-1.6zM278 128h1.6v1.6h-1.6zM280 128h1.6v1.6h-1.6zM255 129h1.6v1.6h-1.6zM259 129h1.6v1.6h-1.6zM260 129h1.6v1.6h-1.6zM262 129h1.6v1.6h-1.6zM263 129h1.6v1.6h-1.6zM266 129h1.6v1.6h-1.6zM267 129h1.6v1.6h-1.6zM268 129h1.6v1.6h-1.6zM269 129h1.6v1.6h-1.6zM272 129h1.6v1.6h-1.6zM273 129h1.6v1.6h-1.6zM275 129h1.6v1.6h-1.6zM276 129h1.6v1.6h-1.6zM247 130h1.6v1.6h-1.6zM256 130h1.6v1.6h-1.6zM258 130h1.6v1.6h-1.6zM260 130h1.6v1.6h-1.6zM261 130h1.6v1.6h-1.6zM264 130h1.6v1.6h-1.6zM266 130h1.6v1.6h-1.6zM267 130h1.6v1.6h-1.6zM269 130h1.6v1.6h-1.6zM271 130h1.6v1.6h-1.6zM272 130h1.6v1.6h-1.6zM273 130h1.6v1.6h-1.6zM274 130h1.6v1.6h-1.6zM275 130h1.6v1.6h-1.6zM276 130h1.6v1.6h-1.6zM281 130h1.6v1.6h-1.6zM257 131h1.6v1.6h-1.6zM260 131h1.6v1.6h-1.6zM261 131h1.6v1.6h-1.6zM263 131h1.6v1.6h-1.6zM265 131h1.6v1.6h-1.6zM266 131h1.6v1.6h-1.6zM267 131h1.6v1.6h-1.6zM269 131h1.6v1.6h-1.6zM271 131h1.6v1.6h-1.6zM272 131h1.6v1.6h-1.6zM273 131h1.6v1.6h-1.6zM275 131h1.6v1.6h-1.6zM277 131h1.6v1.6h-1.6zM278 131h1.6v1.6h-1.6zM279 131h1.6v1.6h-1.6zM281 131h1.6v1.6h-1.6zM284 131h1.6v1.6h-1.6zM291 131h1.6v1.6h-1.6zM241 132h1.6v1.6h-1.6zM258 132h1.6v1.6h-1.6zM267 132h1.6v1.6h-1.6zM270 132h1.6v1.6h-1.6zM271 132h1.6v1.6h-1.6zM272 132h1.6v1.6h-1.6zM273 132h1.6v1.6h-1.6zM274 132h1.6v1.6h-1.6zM275 132h1.6v1.6h-1.6zM284 132h1.6v1.6h-1.6zM295 132h1.6v1.6h-1.6zM260 133h1.6v1.6h-1.6zM261 133h1.6v1.6h-1.6zM265 133h1.6v1.6h-1.6zM266 133h1.6v1.6h-1.6zM270 133h1.6v1.6h-1.6zM271 133h1.6v1.6h-1.6zM272 133h1.6v1.6h-1.6zM274 133h1.6v1.6h-1.6zM277 133h1.6v1.6h-1.6zM278 133h1.6v1.6h-1.6zM281 133h1.6v1.6h-1.6zM285 133h1.6v1.6h-1.6zM250 134h1.6v1.6h-1.6zM254 134h1.6v1.6h-1.6zM259 134h1.6v1.6h-1.6zM261 134h1.6v1.6h-1.6zM262 134h1.6v1.6h-1.6zM264 134h1.6v1.6h-1.6zM270 134h1.6v1.6h-1.6zM271 134h1.6v1.6h-1.6zM272 134h1.6v1.6h-1.6zM275 134h1.6v1.6h-1.6zM276 134h1.6v1.6h-1.6zM277 134h1.6v1.6h-1.6zM278 134h1.6v1.6h-1.6zM281 134h1.6v1.6h-1.6zM282 134h1.6v1.6h-1.6zM257 135h1.6v1.6h-1.6zM259 135h1.6v1.6h-1.6zM260 135h1.6v1.6h-1.6zM261 135h1.6v1.6h-1.6zM262 135h1.6v1.6h-1.6zM264 135h1.6v1.6h-1.6zM266 135h1.6v1.6h-1.6zM267 135h1.6v1.6h-1.6zM268 135h1.6v1.6h-1.6zM271 135h1.6v1.6h-1.6zM272 135h1.6v1.6h-1.6zM273 135h1.6v1.6h-1.6zM274 135h1.6v1.6h-1.6zM275 135h1.6v1.6h-1.6zM276 135h1.6v1.6h-1.6zM277 135h1.6v1.6h-1.6zM278 135h1.6v1.6h-1.6zM279 135h1.6v1.6h-1.6zM284 135h1.6v1.6h-1.6zM285 135h1.6v1.6h-1.6zM295 135h1.6v1.6h-1.6zM256 136h1.6v1.6h-1.6zM263 136h1.6v1.6h-1.6zM265 136h1.6v1.6h-1.6zM266 136h1.6v1.6h-1.6zM267 136h1.6v1.6h-1.6zM269 136h1.6v1.6h-1.6zM270 136h1.6v1.6h-1.6zM271 136h1.6v1.6h-1.6zM272 136h1.6v1.6h-1.6zM273 136h1.6v1.6h-1.6zM274 136h1.6v1.6h-1.6zM275 136h1.6v1.6h-1.6zM276 136h1.6v1.6h-1.6zM277 136h1.6v1.6h-1.6zM278 136h1.6v1.6h-1.6zM279 136h1.6v1.6h-1.6zM284 136h1.6v1.6h-1.6zM291 136h1.6v1.6h-1.6zM255 137h1.6v1.6h-1.6zM258 137h1.6v1.6h-1.6zM259 137h1.6v1.6h-1.6zM260 137h1.6v1.6h-1.6zM262 137h1.6v1.6h-1.6zM264 137h1.6v1.6h-1.6zM265 137h1.6v1.6h-1.6zM268 137h1.6v1.6h-1.6zM269 137h1.6v1.6h-1.6zM271 137h1.6v1.6h-1.6zM272 137h1.6v1.6h-1.6zM273 137h1.6v1.6h-1.6zM274 137h1.6v1.6h-1.6zM275 137h1.6v1.6h-1.6zM276 137h1.6v1.6h-1.6zM277 137h1.6v1.6h-1.6zM278 137h1.6v1.6h-1.6zM255 138h1.6v1.6h-1.6zM258 138h1.6v1.6h-1.6zM263 138h1.6v1.6h-1.6zM264 138h1.6v1.6h-1.6zM266 138h1.6v1.6h-1.6zM267 138h1.6v1.6h-1.6zM268 138h1.6v1.6h-1.6zM270 138h1.6v1.6h-1.6zM271 138h1.6v1.6h-1.6zM272 138h1.6v1.6h-1.6zM273 138h1.6v1.6h-1.6zM274 138h1.6v1.6h-1.6zM276 138h1.6v1.6h-1.6zM278 138h1.6v1.6h-1.6zM258 139h1.6v1.6h-1.6zM259 139h1.6v1.6h-1.6zM262 139h1.6v1.6h-1.6zM267 139h1.6v1.6h-1.6zM269 139h1.6v1.6h-1.6zM270 139h1.6v1.6h-1.6zM271 139h1.6v1.6h-1.6zM272 139h1.6v1.6h-1.6zM273 139h1.6v1.6h-1.6zM274 139h1.6v1.6h-1.6zM276 139h1.6v1.6h-1.6zM277 139h1.6v1.6h-1.6zM289 139h1.6v1.6h-1.6zM224 140h1.6v1.6h-1.6zM255 140h1.6v1.6h-1.6zM256 140h1.6v1.6h-1.6zM257 140h1.6v1.6h-1.6zM258 140h1.6v1.6h-1.6zM261 140h1.6v1.6h-1.6zM264 140h1.6v1.6h-1.6zM266 140h1.6v1.6h-1.6zM267 140h1.6v1.6h-1.6zM268 140h1.6v1.6h-1.6zM271 140h1.6v1.6h-1.6zM272 140h1.6v1.6h-1.6zM273 140h1.6v1.6h-1.6zM275 140h1.6v1.6h-1.6zM276 140h1.6v1.6h-1.6zM278 140h1.6v1.6h-1.6zM250 141h1.6v1.6h-1.6zM255 141h1.6v1.6h-1.6zM260 141h1.6v1.6h-1.6zM264 141h1.6v1.6h-1.6zM267 141h1.6v1.6h-1.6zM269 141h1.6v1.6h-1.6zM270 141h1.6v1.6h-1.6zM271 141h1.6v1.6h-1.6zM272 141h1.6v1.6h-1.6zM273 141h1.6v1.6h-1.6zM274 141h1.6v1.6h-1.6zM282 141h1.6v1.6h-1.6zM284 141h1.6v1.6h-1.6zM205 142h1.6v1.6h-1.6zM257 142h1.6v1.6h-1.6zM267 142h1.6v1.6h-1.6zM269 142h1.6v1.6h-1.6zM270 142h1.6v1.6h-1.6zM271 142h1.6v1.6h-1.6zM272 142h1.6v1.6h-1.6zM273 142h1.6v1.6h-1.6zM274 142h1.6v1.6h-1.6zM275 142h1.6v1.6h-1.6zM281 142h1.6v1.6h-1.6zM211 143h1.6v1.6h-1.6zM236 143h1.6v1.6h-1.6zM257 143h1.6v1.6h-1.6zM259 143h1.6v1.6h-1.6zM261 143h1.6v1.6h-1.6zM265 143h1.6v1.6h-1.6zM269 143h1.6v1.6h-1.6zM270 143h1.6v1.6h-1.6zM271 143h1.6v1.6h-1.6zM272 143h1.6v1.6h-1.6zM273 143h1.6v1.6h-1.6zM275 143h1.6v1.6h-1.6zM278 143h1.6v1.6h-1.6zM279 143h1.6v1.6h-1.6zM281 143h1.6v1.6h-1.6zM283 143h1.6v1.6h-1.6zM229 144h1.6v1.6h-1.6zM254 144h1.6v1.6h-1.6zM257 144h1.6v1.6h-1.6zM258 144h1.6v1.6h-1.6zM260 144h1.6v1.6h-1.6zM263 144h1.6v1.6h-1.6zM266 144h1.6v1.6h-1.6zM268 144h1.6v1.6h-1.6zM270 144h1.6v1.6h-1.6zM271 144h1.6v1.6h-1.6zM272 144h1.6v1.6h-1.6zM273 144h1.6v1.6h-1.6zM275 144h1.6v1.6h-1.6zM276 144h1.6v1.6h-1.6zM278 144h1.6v1.6h-1.6zM253 145h1.6v1.6h-1.6zM259 145h1.6v1.6h-1.6zM262 145h1.6v1.6h-1.6zM264 145h1.6v1.6h-1.6zM267 145h1.6v1.6h-1.6zM268 145h1.6v1.6h-1.6zM270 145h1.6v1.6h-1.6zM271 145h1.6v1.6h-1.6zM272 145h1.6v1.6h-1.6zM273 145h1.6v1.6h-1.6zM274 145h1.6v1.6h-1.6zM279 145h1.6v1.6h-1.6zM251 146h1.6v1.6h-1.6zM253 146h1.6v1.6h-1.6zM255 146h1.6v1.6h-1.6zM256 146h1.6v1.6h-1.6zM257 146h1.6v1.6h-1.6zM260 146h1.6v1.6h-1.6zM261 146h1.6v1.6h-1.6zM262 146h1.6v1.6h-1.6zM263 146h1.6v1.6h-1.6zM265 146h1.6v1.6h-1.6zM266 146h1.6v1.6h-1.6zM267 146h1.6v1.6h-1.6zM268 146h1.6v1.6h-1.6zM269 146h1.6v1.6h-1.6zM270 146h1.6v1.6h-1.6zM271 146h1.6v1.6h-1.6zM274 146h1.6v1.6h-1.6zM275 146h1.6v1.6h-1.6zM276 146h1.6v1.6h-1.6zM278 146h1.6v1.6h-1.6zM279 146h1.6v1.6h-1.6zM304 146h1.6v1.6h-1.6zM257 147h1.6v1.6h-1.6zM261 147h1.6v1.6h-1.6zM263 147h1.6v1.6h-1.6zM264 147h1.6v1.6h-1.6zM265 147h1.6v1.6h-1.6zM266 147h1.6v1.6h-1.6zM268 147h1.6v1.6h-1.6zM269 147h1.6v1.6h-1.6zM270 147h1.6v1.6h-1.6zM271 147h1.6v1.6h-1.6zM272 147h1.6v1.6h-1.6zM273 147h1.6v1.6h-1.6zM274 147h1.6v1.6h-1.6zM276 147h1.6v1.6h-1.6zM281 147h1.6v1.6h-1.6zM285 147h1.6v1.6h-1.6zM257 148h1.6v1.6h-1.6zM258 148h1.6v1.6h-1.6zM259 148h1.6v1.6h-1.6zM263 148h1.6v1.6h-1.6zM265 148h1.6v1.6h-1.6zM266 148h1.6v1.6h-1.6zM267 148h1.6v1.6h-1.6zM268 148h1.6v1.6h-1.6zM269 148h1.6v1.6h-1.6zM270 148h1.6v1.6h-1.6zM271 148h1.6v1.6h-1.6zM272 148h1.6v1.6h-1.6zM273 148h1.6v1.6h-1.6zM274 148h1.6v1.6h-1.6zM277 148h1.6v1.6h-1.6zM278 148h1.6v1.6h-1.6zM255 149h1.6v1.6h-1.6zM257 149h1.6v1.6h-1.6zM260 149h1.6v1.6h-1.6zM262 149h1.6v1.6h-1.6zM265 149h1.6v1.6h-1.6zM266 149h1.6v1.6h-1.6zM267 149h1.6v1.6h-1.6zM268 149h1.6v1.6h-1.6zM269 149h1.6v1.6h-1.6zM270 149h1.6v1.6h-1.6zM271 149h1.6v1.6h-1.6zM272 149h1.6v1.6h-1.6zM274 149h1.6v1.6h-1.6zM275 149h1.6v1.6h-1.6zM276 149h1.6v1.6h-1.6zM277 149h1.6v1.6h-1.6zM223 150h1.6v1.6h-1.6zM255 150h1.6v1.6h-1.6zM261 150h1.6v1.6h-1.6zM263 150h1.6v1.6h-1.6zM265 150h1.6v1.6h-1.6zM266 150h1.6v1.6h-1.6zM267 150h1.6v1.6h-1.6zM269 150h1.6v1.6h-1.6zM270 150h1.6v1.6h-1.6zM271 150h1.6v1.6h-1.6zM272 150h1.6v1.6h-1.6zM274 150h1.6v1.6h-1.6zM278 150h1.6v1.6h-1.6zM209 151h1.6v1.6h-1.6zM253 151h1.6v1.6h-1.6zM256 151h1.6v1.6h-1.6zM257 151h1.6v1.6h-1.6zM261 151h1.6v1.6h-1.6zM262 151h1.6v1.6h-1.6zM263 151h1.6v1.6h-1.6zM264 151h1.6v1.6h-1.6zM265 151h1.6v1.6h-1.6zM266 151h1.6v1.6h-1.6zM267 151h1.6v1.6h-1.6zM268 151h1.6v1.6h-1.6zM269 151h1.6v1.6h-1.6zM270 151h1.6v1.6h-1.6zM271 151h1.6v1.6h-1.6zM273 151h1.6v1.6h-1.6zM275 151h1.6v1.6h-1.6zM276 151h1.6v1.6h-1.6zM277 151h1.6v1.6h-1.6zM281 151h1.6v1.6h-1.6zM284 151h1.6v1.6h-1.6zM232 152h1.6v1.6h-1.6zM240 152h1.6v1.6h-1.6zM250 152h1.6v1.6h-1.6zM252 152h1.6v1.6h-1.6zM258 152h1.6v1.6h-1.6zM259 152h1.6v1.6h-1.6zM261 152h1.6v1.6h-1.6zM264 152h1.6v1.6h-1.6zM265 152h1.6v1.6h-1.6zM267 152h1.6v1.6h-1.6zM268 152h1.6v1.6h-1.6zM269 152h1.6v1.6h-1.6zM270 152h1.6v1.6h-1.6zM271 152h1.6v1.6h-1.6zM272 152h1.6v1.6h-1.6zM273 152h1.6v1.6h-1.6zM274 152h1.6v1.6h-1.6zM276 152h1.6v1.6h-1.6zM277 152h1.6v1.6h-1.6zM283 152h1.6v1.6h-1.6zM284 152h1.6v1.6h-1.6zM225 153h1.6v1.6h-1.6zM244 153h1.6v1.6h-1.6zM250 153h1.6v1.6h-1.6zM255 153h1.6v1.6h-1.6zM256 153h1.6v1.6h-1.6zM257 153h1.6v1.6h-1.6zM258 153h1.6v1.6h-1.6zM259 153h1.6v1.6h-1.6zM260 153h1.6v1.6h-1.6zM262 153h1.6v1.6h-1.6zM263 153h1.6v1.6h-1.6zM265 153h1.6v1.6h-1.6zM267 153h1.6v1.6h-1.6zM268 153h1.6v1.6h-1.6zM269 153h1.6v1.6h-1.6zM270 153h1.6v1.6h-1.6zM271 153h1.6v1.6h-1.6zM272 153h1.6v1.6h-1.6zM273 153h1.6v1.6h-1.6zM274 153h1.6v1.6h-1.6zM275 153h1.6v1.6h-1.6zM276 153h1.6v1.6h-1.6zM278 153h1.6v1.6h-1.6zM284 153h1.6v1.6h-1.6zM231 154h1.6v1.6h-1.6zM247 154h1.6v1.6h-1.6zM248 154h1.6v1.6h-1.6zM254 154h1.6v1.6h-1.6zM255 154h1.6v1.6h-1.6zM256 154h1.6v1.6h-1.6zM257 154h1.6v1.6h-1.6zM259 154h1.6v1.6h-1.6zM260 154h1.6v1.6h-1.6zM261 154h1.6v1.6h-1.6zM262 154h1.6v1.6h-1.6zM263 154h1.6v1.6h-1.6zM264 154h1.6v1.6h-1.6zM265 154h1.6v1.6h-1.6zM266 154h1.6v1.6h-1.6zM267 154h1.6v1.6h-1.6zM268 154h1.6v1.6h-1.6zM269 154h1.6v1.6h-1.6zM270 154h1.6v1.6h-1.6zM271 154h1.6v1.6h-1.6zM272 154h1.6v1.6h-1.6zM274 154h1.6v1.6h-1.6zM276 154h1.6v1.6h-1.6zM280 154h1.6v1.6h-1.6zM211 155h1.6v1.6h-1.6zM231 155h1.6v1.6h-1.6zM239 155h1.6v1.6h-1.6zM253 155h1.6v1.6h-1.6zM254 155h1.6v1.6h-1.6zM259 155h1.6v1.6h-1.6zM262 155h1.6v1.6h-1.6zM263 155h1.6v1.6h-1.6zM266 155h1.6v1.6h-1.6zM267 155h1.6v1.6h-1.6zM268 155h1.6v1.6h-1.6zM269 155h1.6v1.6h-1.6zM270 155h1.6v1.6h-1.6zM271 155h1.6v1.6h-1.6zM272 155h1.6v1.6h-1.6zM273 155h1.6v1.6h-1.6zM274 155h1.6v1.6h-1.6zM277 155h1.6v1.6h-1.6zM279 155h1.6v1.6h-1.6zM219 156h1.6v1.6h-1.6zM227 156h1.6v1.6h-1.6zM246 156h1.6v1.6h-1.6zM253 156h1.6v1.6h-1.6zM255 156h1.6v1.6h-1.6zM256 156h1.6v1.6h-1.6zM258 156h1.6v1.6h-1.6zM259 156h1.6v1.6h-1.6zM261 156h1.6v1.6h-1.6zM262 156h1.6v1.6h-1.6zM263 156h1.6v1.6h-1.6zM264 156h1.6v1.6h-1.6zM265 156h1.6v1.6h-1.6zM266 156h1.6v1.6h-1.6zM267 156h1.6v1.6h-1.6zM268 156h1.6v1.6h-1.6zM269 156h1.6v1.6h-1.6zM270 156h1.6v1.6h-1.6zM273 156h1.6v1.6h-1.6zM278 156h1.6v1.6h-1.6zM281 156h1.6v1.6h-1.6zM286 156h1.6v1.6h-1.6zM247 157h1.6v1.6h-1.6zM249 157h1.6v1.6h-1.6zM256 157h1.6v1.6h-1.6zM257 157h1.6v1.6h-1.6zM258 157h1.6v1.6h-1.6zM259 157h1.6v1.6h-1.6zM260 157h1.6v1.6h-1.6zM261 157h1.6v1.6h-1.6zM262 157h1.6v1.6h-1.6zM263 157h1.6v1.6h-1.6zM264 157h1.6v1.6h-1.6zM265 157h1.6v1.6h-1.6zM266 157h1.6v1.6h-1.6zM267 157h1.6v1.6h-1.6zM268 157h1.6v1.6h-1.6zM269 157h1.6v1.6h-1.6zM270 157h1.6v1.6h-1.6zM271 157h1.6v1.6h-1.6zM272 157h1.6v1.6h-1.6zM273 157h1.6v1.6h-1.6zM275 157h1.6v1.6h-1.6zM277 157h1.6v1.6h-1.6zM278 157h1.6v1.6h-1.6zM280 157h1.6v1.6h-1.6zM201 158h1.6v1.6h-1.6zM205 158h1.6v1.6h-1.6zM247 158h1.6v1.6h-1.6zM250 158h1.6v1.6h-1.6zM252 158h1.6v1.6h-1.6zM254 158h1.6v1.6h-1.6zM255 158h1.6v1.6h-1.6zM256 158h1.6v1.6h-1.6zM257 158h1.6v1.6h-1.6zM258 158h1.6v1.6h-1.6zM259 158h1.6v1.6h-1.6zM260 158h1.6v1.6h-1.6zM261 158h1.6v1.6h-1.6zM262 158h1.6v1.6h-1.6zM263 158h1.6v1.6h-1.6zM264 158h1.6v1.6h-1.6zM265 158h1.6v1.6h-1.6zM266 158h1.6v1.6h-1.6zM267 158h1.6v1.6h-1.6zM268 158h1.6v1.6h-1.6zM269 158h1.6v1.6h-1.6zM270 158h1.6v1.6h-1.6zM271 158h1.6v1.6h-1.6zM272 158h1.6v1.6h-1.6zM276 158h1.6v1.6h-1.6zM285 158h1.6v1.6h-1.6zM225 159h1.6v1.6h-1.6zM229 159h1.6v1.6h-1.6zM243 159h1.6v1.6h-1.6zM246 159h1.6v1.6h-1.6zM248 159h1.6v1.6h-1.6zM249 159h1.6v1.6h-1.6zM253 159h1.6v1.6h-1.6zM254 159h1.6v1.6h-1.6zM255 159h1.6v1.6h-1.6zM256 159h1.6v1.6h-1.6zM257 159h1.6v1.6h-1.6zM258 159h1.6v1.6h-1.6zM259 159h1.6v1.6h-1.6zM260 159h1.6v1.6h-1.6zM261 159h1.6v1.6h-1.6zM262 159h1.6v1.6h-1.6zM263 159h1.6v1.6h-1.6zM264 159h1.6v1.6h-1.6zM265 159h1.6v1.6h-1.6zM266 159h1.6v1.6h-1.6zM267 159h1.6v1.6h-1.6zM268 159h1.6v1.6h-1.6zM269 159h1.6v1.6h-1.6zM270 159h1.6v1.6h-1.6zM271 159h1.6v1.6h-1.6zM272 159h1.6v1.6h-1.6zM273 159h1.6v1.6h-1.6zM193 160h1.6v1.6h-1.6zM230 160h1.6v1.6h-1.6zM233 160h1.6v1.6h-1.6zM248 160h1.6v1.6h-1.6zM249 160h1.6v1.6h-1.6zM250 160h1.6v1.6h-1.6zM251 160h1.6v1.6h-1.6zM252 160h1.6v1.6h-1.6zM253 160h1.6v1.6h-1.6zM254 160h1.6v1.6h-1.6zM255 160h1.6v1.6h-1.6zM256 160h1.6v1.6h-1.6zM257 160h1.6v1.6h-1.6zM258 160h1.6v1.6h-1.6zM259 160h1.6v1.6h-1.6zM260 160h1.6v1.6h-1.6zM261 160h1.6v1.6h-1.6zM262 160h1.6v1.6h-1.6zM263 160h1.6v1.6h-1.6zM264 160h1.6v1.6h-1.6zM265 160h1.6v1.6h-1.6zM266 160h1.6v1.6h-1.6zM267 160h1.6v1.6h-1.6zM268 160h1.6v1.6h-1.6zM269 160h1.6v1.6h-1.6zM270 160h1.6v1.6h-1.6zM271 160h1.6v1.6h-1.6zM275 160h1.6v1.6h-1.6zM217 161h1.6v1.6h-1.6zM227 161h1.6v1.6h-1.6zM230 161h1.6v1.6h-1.6zM244 161h1.6v1.6h-1.6zM246 161h1.6v1.6h-1.6zM248 161h1.6v1.6h-1.6zM249 161h1.6v1.6h-1.6zM250 161h1.6v1.6h-1.6zM251 161h1.6v1.6h-1.6zM252 161h1.6v1.6h-1.6zM253 161h1.6v1.6h-1.6zM254 161h1.6v1.6h-1.6zM255 161h1.6v1.6h-1.6zM256 161h1.6v1.6h-1.6zM257 161h1.6v1.6h-1.6zM258 161h1.6v1.6h-1.6zM259 161h1.6v1.6h-1.6zM260 161h1.6v1.6h-1.6zM261 161h1.6v1.6h-1.6zM262 161h1.6v1.6h-1.6zM263 161h1.6v1.6h-1.6zM264 161h1.6v1.6h-1.6zM265 161h1.6v1.6h-1.6zM266 161h1.6v1.6h-1.6zM267 161h1.6v1.6h-1.6zM268 161h1.6v1.6h-1.6zM269 161h1.6v1.6h-1.6zM270 161h1.6v1.6h-1.6zM271 161h1.6v1.6h-1.6zM272 161h1.6v1.6h-1.6zM277 161h1.6v1.6h-1.6zM280 161h1.6v1.6h-1.6zM210 162h1.6v1.6h-1.6zM219 162h1.6v1.6h-1.6zM230 162h1.6v1.6h-1.6zM241 162h1.6v1.6h-1.6zM245 162h1.6v1.6h-1.6zM248 162h1.6v1.6h-1.6zM249 162h1.6v1.6h-1.6zM250 162h1.6v1.6h-1.6zM251 162h1.6v1.6h-1.6zM252 162h1.6v1.6h-1.6zM253 162h1.6v1.6h-1.6zM254 162h1.6v1.6h-1.6zM255 162h1.6v1.6h-1.6zM256 162h1.6v1.6h-1.6zM257 162h1.6v1.6h-1.6zM258 162h1.6v1.6h-1.6zM259 162h1.6v1.6h-1.6zM260 162h1.6v1.6h-1.6zM261 162h1.6v1.6h-1.6zM262 162h1.6v1.6h-1.6zM263 162h1.6v1.6h-1.6zM264 162h1.6v1.6h-1.6zM265 162h1.6v1.6h-1.6zM266 162h1.6v1.6h-1.6zM267 162h1.6v1.6h-1.6zM268 162h1.6v1.6h-1.6zM269 162h1.6v1.6h-1.6zM270 162h1.6v1.6h-1.6zM271 162h1.6v1.6h-1.6zM272 162h1.6v1.6h-1.6zM277 162h1.6v1.6h-1.6zM279 162h1.6v1.6h-1.6zM280 162h1.6v1.6h-1.6zM218 163h1.6v1.6h-1.6zM222 163h1.6v1.6h-1.6zM230 163h1.6v1.6h-1.6zM235 163h1.6v1.6h-1.6zM239 163h1.6v1.6h-1.6zM244 163h1.6v1.6h-1.6zM247 163h1.6v1.6h-1.6zM248 163h1.6v1.6h-1.6zM249 163h1.6v1.6h-1.6zM250 163h1.6v1.6h-1.6zM251 163h1.6v1.6h-1.6zM252 163h1.6v1.6h-1.6zM253 163h1.6v1.6h-1.6zM254 163h1.6v1.6h-1.6zM255 163h1.6v1.6h-1.6zM256 163h1.6v1.6h-1.6zM257 163h1.6v1.6h-1.6zM258 163h1.6v1.6h-1.6zM259 163h1.6v1.6h-1.6zM260 163h1.6v1.6h-1.6zM261 163h1.6v1.6h-1.6zM262 163h1.6v1.6h-1.6zM263 163h1.6v1.6h-1.6zM264 163h1.6v1.6h-1.6zM265 163h1.6v1.6h-1.6zM266 163h1.6v1.6h-1.6zM267 163h1.6v1.6h-1.6zM268 163h1.6v1.6h-1.6zM269 163h1.6v1.6h-1.6zM270 163h1.6v1.6h-1.6zM271 163h1.6v1.6h-1.6zM272 163h1.6v1.6h-1.6zM273 163h1.6v1.6h-1.6zM275 163h1.6v1.6h-1.6zM209 164h1.6v1.6h-1.6zM234 164h1.6v1.6h-1.6zM235 164h1.6v1.6h-1.6zM242 164h1.6v1.6h-1.6zM247 164h1.6v1.6h-1.6zM248 164h1.6v1.6h-1.6zM249 164h1.6v1.6h-1.6zM250 164h1.6v1.6h-1.6zM251 164h1.6v1.6h-1.6zM252 164h1.6v1.6h-1.6zM253 164h1.6v1.6h-1.6zM254 164h1.6v1.6h-1.6zM255 164h1.6v1.6h-1.6zM256 164h1.6v1.6h-1.6zM257 164h1.6v1.6h-1.6zM258 164h1.6v1.6h-1.6zM259 164h1.6v1.6h-1.6zM260 164h1.6v1.6h-1.6zM261 164h1.6v1.6h-1.6zM262 164h1.6v1.6h-1.6zM263 164h1.6v1.6h-1.6zM264 164h1.6v1.6h-1.6zM265 164h1.6v1.6h-1.6zM266 164h1.6v1.6h-1.6zM267 164h1.6v1.6h-1.6zM268 164h1.6v1.6h-1.6zM269 164h1.6v1.6h-1.6zM270 164h1.6v1.6h-1.6zM271 164h1.6v1.6h-1.6zM272 164h1.6v1.6h-1.6zM276 164h1.6v1.6h-1.6zM278 164h1.6v1.6h-1.6zM245 165h1.6v1.6h-1.6zM246 165h1.6v1.6h-1.6zM247 165h1.6v1.6h-1.6zM248 165h1.6v1.6h-1.6zM249 165h1.6v1.6h-1.6zM250 165h1.6v1.6h-1.6zM251 165h1.6v1.6h-1.6zM252 165h1.6v1.6h-1.6zM253 165h1.6v1.6h-1.6zM254 165h1.6v1.6h-1.6zM255 165h1.6v1.6h-1.6zM256 165h1.6v1.6h-1.6zM257 165h1.6v1.6h-1.6zM258 165h1.6v1.6h-1.6zM259 165h1.6v1.6h-1.6zM260 165h1.6v1.6h-1.6zM261 165h1.6v1.6h-1.6zM262 165h1.6v1.6h-1.6zM263 165h1.6v1.6h-1.6zM264 165h1.6v1.6h-1.6zM265 165h1.6v1.6h-1.6zM266 165h1.6v1.6h-1.6zM267 165h1.6v1.6h-1.6zM268 165h1.6v1.6h-1.6zM269 165h1.6v1.6h-1.6zM270 165h1.6v1.6h-1.6zM271 165h1.6v1.6h-1.6zM274 165h1.6v1.6h-1.6zM276 165h1.6v1.6h-1.6zM281 165h1.6v1.6h-1.6zM282 165h1.6v1.6h-1.6zM199 166h1.6v1.6h-1.6zM206 166h1.6v1.6h-1.6zM238 166h1.6v1.6h-1.6zM243 166h1.6v1.6h-1.6zM244 166h1.6v1.6h-1.6zM245 166h1.6v1.6h-1.6zM246 166h1.6v1.6h-1.6zM247 166h1.6v1.6h-1.6zM248 166h1.6v1.6h-1.6zM249 166h1.6v1.6h-1.6zM250 166h1.6v1.6h-1.6zM251 166h1.6v1.6h-1.6zM252 166h1.6v1.6h-1.6zM253 166h1.6v1.6h-1.6zM254 166h1.6v1.6h-1.6zM255 166h1.6v1.6h-1.6zM256 166h1.6v1.6h-1.6zM257 166h1.6v1.6h-1.6zM258 166h1.6v1.6h-1.6zM259 166h1.6v1.6h-1.6zM260 166h1.6v1.6h-1.6zM261 166h1.6v1.6h-1.6zM262 166h1.6v1.6h-1.6zM263 166h1.6v1.6h-1.6zM264 166h1.6v1.6h-1.6zM265 166h1.6v1.6h-1.6zM266 166h1.6v1.6h-1.6zM267 166h1.6v1.6h-1.6zM268 166h1.6v1.6h-1.6zM269 166h1.6v1.6h-1.6zM270 166h1.6v1.6h-1.6zM271 166h1.6v1.6h-1.6zM272 166h1.6v1.6h-1.6zM273 166h1.6v1.6h-1.6zM219 167h1.6v1.6h-1.6zM237 167h1.6v1.6h-1.6zM241 167h1.6v1.6h-1.6zM243 167h1.6v1.6h-1.6zM244 167h1.6v1.6h-1.6zM245 167h1.6v1.6h-1.6zM246 167h1.6v1.6h-1.6zM247 167h1.6v1.6h-1.6zM248 167h1.6v1.6h-1.6zM249 167h1.6v1.6h-1.6zM250 167h1.6v1.6h-1.6zM251 167h1.6v1.6h-1.6zM252 167h1.6v1.6h-1.6zM253 167h1.6v1.6h-1.6zM254 167h1.6v1.6h-1.6zM255 167h1.6v1.6h-1.6zM256 167h1.6v1.6h-1.6zM257 167h1.6v1.6h-1.6zM258 167h1.6v1.6h-1.6zM259 167h1.6v1.6h-1.6zM260 167h1.6v1.6h-1.6zM261 167h1.6v1.6h-1.6zM262 167h1.6v1.6h-1.6zM263 167h1.6v1.6h-1.6zM264 167h1.6v1.6h-1.6zM265 167h1.6v1.6h-1.6zM266 167h1.6v1.6h-1.6zM267 167h1.6v1.6h-1.6zM268 167h1.6v1.6h-1.6zM269 167h1.6v1.6h-1.6zM270 167h1.6v1.6h-1.6zM271 167h1.6v1.6h-1.6zM272 167h1.6v1.6h-1.6zM274 167h1.6v1.6h-1.6zM216 168h1.6v1.6h-1.6zM220 168h1.6v1.6h-1.6zM240 168h1.6v1.6h-1.6zM243 168h1.6v1.6h-1.6zM244 168h1.6v1.6h-1.6zM245 168h1.6v1.6h-1.6zM246 168h1.6v1.6h-1.6zM247 168h1.6v1.6h-1.6zM248 168h1.6v1.6h-1.6zM249 168h1.6v1.6h-1.6zM250 168h1.6v1.6h-1.6zM251 168h1.6v1.6h-1.6zM252 168h1.6v1.6h-1.6zM253 168h1.6v1.6h-1.6zM254 168h1.6v1.6h-1.6zM255 168h1.6v1.6h-1.6zM256 168h1.6v1.6h-1.6zM257 168h1.6v1.6h-1.6zM258 168h1.6v1.6h-1.6zM259 168h1.6v1.6h-1.6zM260 168h1.6v1.6h-1.6zM261 168h1.6v1.6h-1.6zM262 168h1.6v1.6h-1.6zM263 168h1.6v1.6h-1.6zM264 168h1.6v1.6h-1.6zM265 168h1.6v1.6h-1.6zM266 168h1.6v1.6h-1.6zM267 168h1.6v1.6h-1.6zM268 168h1.6v1.6h-1.6zM269 168h1.6v1.6h-1.6zM270 168h1.6v1.6h-1.6zM271 168h1.6v1.6h-1.6zM272 168h1.6v1.6h-1.6zM274 168h1.6v1.6h-1.6zM189 169h1.6v1.6h-1.6zM210 169h1.6v1.6h-1.6zM216 169h1.6v1.6h-1.6zM223 169h1.6v1.6h-1.6zM225 169h1.6v1.6h-1.6zM242 169h1.6v1.6h-1.6zM243 169h1.6v1.6h-1.6zM244 169h1.6v1.6h-1.6zM245 169h1.6v1.6h-1.6zM246 169h1.6v1.6h-1.6zM247 169h1.6v1.6h-1.6zM248 169h1.6v1.6h-1.6zM249 169h1.6v1.6h-1.6zM250 169h1.6v1.6h-1.6zM251 169h1.6v1.6h-1.6zM252 169h1.6v1.6h-1.6zM253 169h1.6v1.6h-1.6zM254 169h1.6v1.6h-1.6zM255 169h1.6v1.6h-1.6zM256 169h1.6v1.6h-1.6zM257 169h1.6v1.6h-1.6zM258 169h1.6v1.6h-1.6zM259 169h1.6v1.6h-1.6zM260 169h1.6v1.6h-1.6zM261 169h1.6v1.6h-1.6zM262 169h1.6v1.6h-1.6zM263 169h1.6v1.6h-1.6zM264 169h1.6v1.6h-1.6zM265 169h1.6v1.6h-1.6zM266 169h1.6v1.6h-1.6zM267 169h1.6v1.6h-1.6zM268 169h1.6v1.6h-1.6zM269 169h1.6v1.6h-1.6zM271 169h1.6v1.6h-1.6zM208 170h1.6v1.6h-1.6zM227 170h1.6v1.6h-1.6zM242 170h1.6v1.6h-1.6zM243 170h1.6v1.6h-1.6zM244 170h1.6v1.6h-1.6zM245 170h1.6v1.6h-1.6zM246 170h1.6v1.6h-1.6zM247 170h1.6v1.6h-1.6zM248 170h1.6v1.6h-1.6zM249 170h1.6v1.6h-1.6zM250 170h1.6v1.6h-1.6zM251 170h1.6v1.6h-1.6zM252 170h1.6v1.6h-1.6zM253 170h1.6v1.6h-1.6zM254 170h1.6v1.6h-1.6zM255 170h1.6v1.6h-1.6zM256 170h1.6v1.6h-1.6zM257 170h1.6v1.6h-1.6zM258 170h1.6v1.6h-1.6zM259 170h1.6v1.6h-1.6zM260 170h1.6v1.6h-1.6zM261 170h1.6v1.6h-1.6zM262 170h1.6v1.6h-1.6zM263 170h1.6v1.6h-1.6zM264 170h1.6v1.6h-1.6zM265 170h1.6v1.6h-1.6zM266 170h1.6v1.6h-1.6zM267 170h1.6v1.6h-1.6zM268 170h1.6v1.6h-1.6zM269 170h1.6v1.6h-1.6zM200 171h1.6v1.6h-1.6zM212 171h1.6v1.6h-1.6zM223 171h1.6v1.6h-1.6zM234 171h1.6v1.6h-1.6zM238 171h1.6v1.6h-1.6zM239 171h1.6v1.6h-1.6zM242 171h1.6v1.6h-1.6zM243 171h1.6v1.6h-1.6zM244 171h1.6v1.6h-1.6zM245 171h1.6v1.6h-1.6zM246 171h1.6v1.6h-1.6zM247 171h1.6v1.6h-1.6zM248 171h1.6v1.6h-1.6zM249 171h1.6v1.6h-1.6zM250 171h1.6v1.6h-1.6zM251 171h1.6v1.6h-1.6zM252 171h1.6v1.6h-1.6zM253 171h1.6v1.6h-1.6zM254 171h1.6v1.6h-1.6zM255 171h1.6v1.6h-1.6zM256 171h1.6v1.6h-1.6zM257 171h1.6v1.6h-1.6zM258 171h1.6v1.6h-1.6zM259 171h1.6v1.6h-1.6zM260 171h1.6v1.6h-1.6zM261 171h1.6v1.6h-1.6zM262 171h1.6v1.6h-1.6zM263 171h1.6v1.6h-1.6zM264 171h1.6v1.6h-1.6zM265 171h1.6v1.6h-1.6zM266 171h1.6v1.6h-1.6zM267 171h1.6v1.6h-1.6zM268 171h1.6v1.6h-1.6zM272 171h1.6v1.6h-1.6zM198 172h1.6v1.6h-1.6zM202 172h1.6v1.6h-1.6zM217 172h1.6v1.6h-1.6zM220 172h1.6v1.6h-1.6zM234 172h1.6v1.6h-1.6zM238 172h1.6v1.6h-1.6zM239 172h1.6v1.6h-1.6zM243 172h1.6v1.6h-1.6zM244 172h1.6v1.6h-1.6zM245 172h1.6v1.6h-1.6zM246 172h1.6v1.6h-1.6zM247 172h1.6v1.6h-1.6zM248 172h1.6v1.6h-1.6zM249 172h1.6v1.6h-1.6zM250 172h1.6v1.6h-1.6zM251 172h1.6v1.6h-1.6zM252 172h1.6v1.6h-1.6zM253 172h1.6v1.6h-1.6zM254 172h1.6v1.6h-1.6zM255 172h1.6v1.6h-1.6zM256 172h1.6v1.6h-1.6zM257 172h1.6v1.6h-1.6zM258 172h1.6v1.6h-1.6zM259 172h1.6v1.6h-1.6zM260 172h1.6v1.6h-1.6zM261 172h1.6v1.6h-1.6zM262 172h1.6v1.6h-1.6zM263 172h1.6v1.6h-1.6zM264 172h1.6v1.6h-1.6zM265 172h1.6v1.6h-1.6zM266 172h1.6v1.6h-1.6zM267 172h1.6v1.6h-1.6zM268 172h1.6v1.6h-1.6zM269 172h1.6v1.6h-1.6zM270 172h1.6v1.6h-1.6zM271 172h1.6v1.6h-1.6zM274 172h1.6v1.6h-1.6zM276 172h1.6v1.6h-1.6zM205 173h1.6v1.6h-1.6zM218 173h1.6v1.6h-1.6zM226 173h1.6v1.6h-1.6zM227 173h1.6v1.6h-1.6zM233 173h1.6v1.6h-1.6zM243 173h1.6v1.6h-1.6zM244 173h1.6v1.6h-1.6zM245 173h1.6v1.6h-1.6zM246 173h1.6v1.6h-1.6zM247 173h1.6v1.6h-1.6zM248 173h1.6v1.6h-1.6zM249 173h1.6v1.6h-1.6zM250 173h1.6v1.6h-1.6zM251 173h1.6v1.6h-1.6zM252 173h1.6v1.6h-1.6zM253 173h1.6v1.6h-1.6zM254 173h1.6v1.6h-1.6zM255 173h1.6v1.6h-1.6zM256 173h1.6v1.6h-1.6zM257 173h1.6v1.6h-1.6zM258 173h1.6v1.6h-1.6zM259 173h1.6v1.6h-1.6zM260 173h1.6v1.6h-1.6zM261 173h1.6v1.6h-1.6zM262 173h1.6v1.6h-1.6zM263 173h1.6v1.6h-1.6zM264 173h1.6v1.6h-1.6zM265 173h1.6v1.6h-1.6zM266 173h1.6v1.6h-1.6zM267 173h1.6v1.6h-1.6zM268 173h1.6v1.6h-1.6zM272 173h1.6v1.6h-1.6zM273 173h1.6v1.6h-1.6zM274 173h1.6v1.6h-1.6zM278 173h1.6v1.6h-1.6zM194 174h1.6v1.6h-1.6zM219 174h1.6v1.6h-1.6zM221 174h1.6v1.6h-1.6zM223 174h1.6v1.6h-1.6zM227 174h1.6v1.6h-1.6zM237 174h1.6v1.6h-1.6zM241 174h1.6v1.6h-1.6zM242 174h1.6v1.6h-1.6zM243 174h1.6v1.6h-1.6zM244 174h1.6v1.6h-1.6zM245 174h1.6v1.6h-1.6zM246 174h1.6v1.6h-1.6zM247 174h1.6v1.6h-1.6zM248 174h1.6v1.6h-1.6zM249 174h1.6v1.6h-1.6zM250 174h1.6v1.6h-1.6zM251 174h1.6v1.6h-1.6zM252 174h1.6v1.6h-1.6zM253 174h1.6v1.6h-1.6zM254 174h1.6v1.6h-1.6zM255 174h1.6v1.6h-1.6zM256 174h1.6v1.6h-1.6zM257 174h1.6v1.6h-1.6zM258 174h1.6v1.6h-1.6zM259 174h1.6v1.6h-1.6zM260 174h1.6v1.6h-1.6zM261 174h1.6v1.6h-1.6zM262 174h1.6v1.6h-1.6zM263 174h1.6v1.6h-1.6zM264 174h1.6v1.6h-1.6zM265 174h1.6v1.6h-1.6zM266 174h1.6v1.6h-1.6zM267 174h1.6v1.6h-1.6zM270 174h1.6v1.6h-1.6zM271 174h1.6v1.6h-1.6zM272 174h1.6v1.6h-1.6zM273 174h1.6v1.6h-1.6zM275 174h1.6v1.6h-1.6zM187 175h1.6v1.6h-1.6zM214 175h1.6v1.6h-1.6zM223 175h1.6v1.6h-1.6zM228 175h1.6v1.6h-1.6zM232 175h1.6v1.6h-1.6zM236 175h1.6v1.6h-1.6zM237 175h1.6v1.6h-1.6zM239 175h1.6v1.6h-1.6zM241 175h1.6v1.6h-1.6zM243 175h1.6v1.6h-1.6zM244 175h1.6v1.6h-1.6zM245 175h1.6v1.6h-1.6zM246 175h1.6v1.6h-1.6zM247 175h1.6v1.6h-1.6zM248 175h1.6v1.6h-1.6zM249 175h1.6v1.6h-1.6zM250 175h1.6v1.6h-1.6zM251 175h1.6v1.6h-1.6zM252 175h1.6v1.6h-1.6zM253 175h1.6v1.6h-1.6zM254 175h1.6v1.6h-1.6zM255 175h1.6v1.6h-1.6zM256 175h1.6v1.6h-1.6zM257 175h1.6v1.6h-1.6zM258 175h1.6v1.6h-1.6zM259 175h1.6v1.6h-1.6zM260 175h1.6v1.6h-1.6zM261 175h1.6v1.6h-1.6zM262 175h1.6v1.6h-1.6zM263 175h1.6v1.6h-1.6zM264 175h1.6v1.6h-1.6zM265 175h1.6v1.6h-1.6zM268 175h1.6v1.6h-1.6zM270 175h1.6v1.6h-1.6zM195 176h1.6v1.6h-1.6zM198 176h1.6v1.6h-1.6zM203 176h1.6v1.6h-1.6zM219 176h1.6v1.6h-1.6zM221 176h1.6v1.6h-1.6zM230 176h1.6v1.6h-1.6zM240 176h1.6v1.6h-1.6zM241 176h1.6v1.6h-1.6zM242 176h1.6v1.6h-1.6zM243 176h1.6v1.6h-1.6zM244 176h1.6v1.6h-1.6zM245 176h1.6v1.6h-1.6zM246 176h1.6v1.6h-1.6zM247 176h1.6v1.6h-1.6zM248 176h1.6v1.6h-1.6zM249 176h1.6v1.6h-1.6zM250 176h1.6v1.6h-1.6zM251 176h1.6v1.6h-1.6zM252 176h1.6v1.6h-1.6zM253 176h1.6v1.6h-1.6zM254 176h1.6v1.6h-1.6zM255 176h1.6v1.6h-1.6zM256 176h1.6v1.6h-1.6zM257 176h1.6v1.6h-1.6zM258 176h1.6v1.6h-1.6zM259 176h1.6v1.6h-1.6zM260 176h1.6v1.6h-1.6zM261 176h1.6v1.6h-1.6zM262 176h1.6v1.6h-1.6zM263 176h1.6v1.6h-1.6zM264 176h1.6v1.6h-1.6zM265 176h1.6v1.6h-1.6zM268 176h1.6v1.6h-1.6zM270 176h1.6v1.6h-1.6zM272 176h1.6v1.6h-1.6zM195 177h1.6v1.6h-1.6zM207 177h1.6v1.6h-1.6zM211 177h1.6v1.6h-1.6zM212 177h1.6v1.6h-1.6zM213 177h1.6v1.6h-1.6zM216 177h1.6v1.6h-1.6zM217 177h1.6v1.6h-1.6zM219 177h1.6v1.6h-1.6zM220 177h1.6v1.6h-1.6zM224 177h1.6v1.6h-1.6zM231 177h1.6v1.6h-1.6zM232 177h1.6v1.6h-1.6zM233 177h1.6v1.6h-1.6zM235 177h1.6v1.6h-1.6zM238 177h1.6v1.6h-1.6zM240 177h1.6v1.6h-1.6zM241 177h1.6v1.6h-1.6zM242 177h1.6v1.6h-1.6zM243 177h1.6v1.6h-1.6zM244 177h1.6v1.6h-1.6zM245 177h1.6v1.6h-1.6zM246 177h1.6v1.6h-1.6zM247 177h1.6v1.6h-1.6zM248 177h1.6v1.6h-1.6zM249 177h1.6v1.6h-1.6zM250 177h1.6v1.6h-1.6zM251 177h1.6v1.6h-1.6zM252 177h1.6v1.6h-1.6zM253 177h1.6v1.6h-1.6zM254 177h1.6v1.6h-1.6zM255 177h1.6v1.6h-1.6zM256 177h1.6v1.6h-1.6zM257 177h1.6v1.6h-1.6zM258 177h1.6v1.6h-1.6zM259 177h1.6v1.6h-1.6zM260 177h1.6v1.6h-1.6zM261 177h1.6v1.6h-1.6zM262 177h1.6v1.6h-1.6zM263 177h1.6v1.6h-1.6zM264 177h1.6v1.6h-1.6zM266 177h1.6v1.6h-1.6zM268 177h1.6v1.6h-1.6zM271 177h1.6v1.6h-1.6zM274 177h1.6v1.6h-1.6zM189 178h1.6v1.6h-1.6zM191 178h1.6v1.6h-1.6zM201 178h1.6v1.6h-1.6zM216 178h1.6v1.6h-1.6zM217 178h1.6v1.6h-1.6zM231 178h1.6v1.6h-1.6zM239 178h1.6v1.6h-1.6zM242 178h1.6v1.6h-1.6zM243 178h1.6v1.6h-1.6zM244 178h1.6v1.6h-1.6zM245 178h1.6v1.6h-1.6zM246 178h1.6v1.6h-1.6zM247 178h1.6v1.6h-1.6zM248 178h1.6v1.6h-1.6zM249 178h1.6v1.6h-1.6zM250 178h1.6v1.6h-1.6zM251 178h1.6v1.6h-1.6zM252 178h1.6v1.6h-1.6zM253 178h1.6v1.6h-1.6zM254 178h1.6v1.6h-1.6zM255 178h1.6v1.6h-1.6zM256 178h1.6v1.6h-1.6zM257 178h1.6v1.6h-1.6zM258 178h1.6v1.6h-1.6zM259 178h1.6v1.6h-1.6zM260 178h1.6v1.6h-1.6zM261 178h1.6v1.6h-1.6zM262 178h1.6v1.6h-1.6zM263 178h1.6v1.6h-1.6zM265 178h1.6v1.6h-1.6zM266 178h1.6v1.6h-1.6zM270 178h1.6v1.6h-1.6zM272 178h1.6v1.6h-1.6zM204 179h1.6v1.6h-1.6zM205 179h1.6v1.6h-1.6zM210 179h1.6v1.6h-1.6zM211 179h1.6v1.6h-1.6zM218 179h1.6v1.6h-1.6zM224 179h1.6v1.6h-1.6zM238 179h1.6v1.6h-1.6zM242 179h1.6v1.6h-1.6zM243 179h1.6v1.6h-1.6zM244 179h1.6v1.6h-1.6zM245 179h1.6v1.6h-1.6zM246 179h1.6v1.6h-1.6zM247 179h1.6v1.6h-1.6zM248 179h1.6v1.6h-1.6zM249 179h1.6v1.6h-1.6zM250 179h1.6v1.6h-1.6zM251 179h1.6v1.6h-1.6zM252 179h1.6v1.6h-1.6zM253 179h1.6v1.6h-1.6zM254 179h1.6v1.6h-1.6zM255 179h1.6v1.6h-1.6zM256 179h1.6v1.6h-1.6zM257 179h1.6v1.6h-1.6zM258 179h1.6v1.6h-1.6zM259 179h1.6v1.6h-1.6zM260 179h1.6v1.6h-1.6zM261 179h1.6v1.6h-1.6zM262 179h1.6v1.6h-1.6zM263 179h1.6v1.6h-1.6zM264 179h1.6v1.6h-1.6zM265 179h1.6v1.6h-1.6zM269 179h1.6v1.6h-1.6zM197 180h1.6v1.6h-1.6zM205 180h1.6v1.6h-1.6zM208 180h1.6v1.6h-1.6zM211 180h1.6v1.6h-1.6zM225 180h1.6v1.6h-1.6zM226 180h1.6v1.6h-1.6zM229 180h1.6v1.6h-1.6zM230 180h1.6v1.6h-1.6zM234 180h1.6v1.6h-1.6zM241 180h1.6v1.6h-1.6zM242 180h1.6v1.6h-1.6zM243 180h1.6v1.6h-1.6zM244 180h1.6v1.6h-1.6zM245 180h1.6v1.6h-1.6zM246 180h1.6v1.6h-1.6zM247 180h1.6v1.6h-1.6zM248 180h1.6v1.6h-1.6zM249 180h1.6v1.6h-1.6zM250 180h1.6v1.6h-1.6zM251 180h1.6v1.6h-1.6zM252 180h1.6v1.6h-1.6zM253 180h1.6v1.6h-1.6zM254 180h1.6v1.6h-1.6zM255 180h1.6v1.6h-1.6zM256 180h1.6v1.6h-1.6zM257 180h1.6v1.6h-1.6zM258 180h1.6v1.6h-1.6zM259 180h1.6v1.6h-1.6zM260 180h1.6v1.6h-1.6zM261 180h1.6v1.6h-1.6zM262 180h1.6v1.6h-1.6zM267 180h1.6v1.6h-1.6zM268 180h1.6v1.6h-1.6zM270 180h1.6v1.6h-1.6zM271 180h1.6v1.6h-1.6zM198 181h1.6v1.6h-1.6zM202 181h1.6v1.6h-1.6zM205 181h1.6v1.6h-1.6zM206 181h1.6v1.6h-1.6zM207 181h1.6v1.6h-1.6zM208 181h1.6v1.6h-1.6zM211 181h1.6v1.6h-1.6zM214 181h1.6v1.6h-1.6zM218 181h1.6v1.6h-1.6zM221 181h1.6v1.6h-1.6zM224 181h1.6v1.6h-1.6zM226 181h1.6v1.6h-1.6zM227 181h1.6v1.6h-1.6zM230 181h1.6v1.6h-1.6zM234 181h1.6v1.6h-1.6zM237 181h1.6v1.6h-1.6zM241 181h1.6v1.6h-1.6zM242 181h1.6v1.6h-1.6zM243 181h1.6v1.6h-1.6zM244 181h1.6v1.6h-1.6zM245 181h1.6v1.6h-1.6zM246 181h1.6v1.6h-1.6zM247 181h1.6v1.6h-1.6zM248 181h1.6v1.6h-1.6zM249 181h1.6v1.6h-1.6zM250 181h1.6v1.6h-1.6zM251 181h1.6v1.6h-1.6zM252 181h1.6v1.6h-1.6zM253 181h1.6v1.6h-1.6zM254 181h1.6v1.6h-1.6zM255 181h1.6v1.6h-1.6zM256 181h1.6v1.6h-1.6zM257 181h1.6v1.6h-1.6zM258 181h1.6v1.6h-1.6zM259 181h1.6v1.6h-1.6zM260 181h1.6v1.6h-1.6zM261 181h1.6v1.6h-1.6zM262 181h1.6v1.6h-1.6zM268 181h1.6v1.6h-1.6zM198 182h1.6v1.6h-1.6zM199 182h1.6v1.6h-1.6zM200 182h1.6v1.6h-1.6zM208 182h1.6v1.6h-1.6zM211 182h1.6v1.6h-1.6zM213 182h1.6v1.6h-1.6zM219 182h1.6v1.6h-1.6zM221 182h1.6v1.6h-1.6zM230 182h1.6v1.6h-1.6zM231 182h1.6v1.6h-1.6zM233 182h1.6v1.6h-1.6zM235 182h1.6v1.6h-1.6zM238 182h1.6v1.6h-1.6zM239 182h1.6v1.6h-1.6zM240 182h1.6v1.6h-1.6zM242 182h1.6v1.6h-1.6zM243 182h1.6v1.6h-1.6zM244 182h1.6v1.6h-1.6zM245 182h1.6v1.6h-1.6zM246 182h1.6v1.6h-1.6zM247 182h1.6v1.6h-1.6zM248 182h1.6v1.6h-1.6zM249 182h1.6v1.6h-1.6zM250 182h1.6v1.6h-1.6zM251 182h1.6v1.6h-1.6zM252 182h1.6v1.6h-1.6zM253 182h1.6v1.6h-1.6zM254 182h1.6v1.6h-1.6zM255 182h1.6v1.6h-1.6zM256 182h1.6v1.6h-1.6zM257 182h1.6v1.6h-1.6zM258 182h1.6v1.6h-1.6zM259 182h1.6v1.6h-1.6zM260 182h1.6v1.6h-1.6zM261 182h1.6v1.6h-1.6zM262 182h1.6v1.6h-1.6zM266 182h1.6v1.6h-1.6zM268 182h1.6v1.6h-1.6zM269 182h1.6v1.6h-1.6zM271 182h1.6v1.6h-1.6zM272 182h1.6v1.6h-1.6zM190 183h1.6v1.6h-1.6zM191 183h1.6v1.6h-1.6zM194 183h1.6v1.6h-1.6zM197 183h1.6v1.6h-1.6zM204 183h1.6v1.6h-1.6zM206 183h1.6v1.6h-1.6zM207 183h1.6v1.6h-1.6zM209 183h1.6v1.6h-1.6zM210 183h1.6v1.6h-1.6zM214 183h1.6v1.6h-1.6zM216 183h1.6v1.6h-1.6zM220 183h1.6v1.6h-1.6zM221 183h1.6v1.6h-1.6zM222 183h1.6v1.6h-1.6zM223 183h1.6v1.6h-1.6zM230 183h1.6v1.6h-1.6zM233 183h1.6v1.6h-1.6zM235 183h1.6v1.6h-1.6zM236 183h1.6v1.6h-1.6zM237 183h1.6v1.6h-1.6zM239 183h1.6v1.6h-1.6zM243 183h1.6v1.6h-1.6zM244 183h1.6v1.6h-1.6zM245 183h1.6v1.6h-1.6zM246 183h1.6v1.6h-1.6zM247 183h1.6v1.6h-1.6zM248 183h1.6v1.6h-1.6zM249 183h1.6v1.6h-1.6zM250 183h1.6v1.6h-1.6zM251 183h1.6v1.6h-1.6zM252 183h1.6v1.6h-1.6zM253 183h1.6v1.6h-1.6zM254 183h1.6v1.6h-1.6zM255 183h1.6v1.6h-1.6zM256 183h1.6v1.6h-1.6zM257 183h1.6v1.6h-1.6zM258 183h1.6v1.6h-1.6zM259 183h1.6v1.6h-1.6zM260 183h1.6v1.6h-1.6zM261 183h1.6v1.6h-1.6zM262 183h1.6v1.6h-1.6zM263 183h1.6v1.6h-1.6zM266 183h1.6v1.6h-1.6zM279 183h1.6v1.6h-1.6zM191 183h1.6v1.6h-1.6zM192 183h1.6v1.6h-1.6zM200 183h1.6v1.6h-1.6zM202 183h1.6v1.6h-1.6zM204 183h1.6v1.6h-1.6zM206 183h1.6v1.6h-1.6zM211 183h1.6v1.6h-1.6zM213 183h1.6v1.6h-1.6zM214 183h1.6v1.6h-1.6zM217 183h1.6v1.6h-1.6zM218 183h1.6v1.6h-1.6zM220 183h1.6v1.6h-1.6zM222 183h1.6v1.6h-1.6zM223 183h1.6v1.6h-1.6zM225 183h1.6v1.6h-1.6zM229 183h1.6v1.6h-1.6zM230 183h1.6v1.6h-1.6zM231 183h1.6v1.6h-1.6zM232 183h1.6v1.6h-1.6zM233 183h1.6v1.6h-1.6zM235 183h1.6v1.6h-1.6zM239 183h1.6v1.6h-1.6zM241 183h1.6v1.6h-1.6zM242 183h1.6v1.6h-1.6zM243 183h1.6v1.6h-1.6zM244 183h1.6v1.6h-1.6zM245 183h1.6v1.6h-1.6zM246 183h1.6v1.6h-1.6zM247 183h1.6v1.6h-1.6zM248 183h1.6v1.6h-1.6zM251 183h1.6v1.6h-1.6zM252 183h1.6v1.6h-1.6zM253 183h1.6v1.6h-1.6zM254 183h1.6v1.6h-1.6zM255 183h1.6v1.6h-1.6zM256 183h1.6v1.6h-1.6zM257 183h1.6v1.6h-1.6zM258 183h1.6v1.6h-1.6zM259 183h1.6v1.6h-1.6zM260 183h1.6v1.6h-1.6zM261 183h1.6v1.6h-1.6zM265 183h1.6v1.6h-1.6zM271 183h1.6v1.6h-1.6zM237.7 59.9h1.5v1.5h-1.5zM248.5 76.6h1.5v1.5h-1.5zM243.0 92.8h1.5v1.5h-1.5zM227.0 98.2h1.5v1.5h-1.5zM220.2 110.3h1.5v1.5h-1.5zM235.0 114.3h1.5v1.5h-1.5zM239.0 113.0h1.5v1.5h-1.5zM210.8 100.9h1.5v1.5h-1.5zM208.0 130.5h1.5v1.5h-1.5zM299.7 122.4h1.5v1.5h-1.5zM294.0 123.8h1.5v1.5h-1.5zM309.0 133.2h1.5v1.5h-1.5zM302.4 48.3h1.5v1.5h-1.5zM330.7 47.0h1.5v1.5h-1.5zM335.5 47.5h1.5v1.5h-1.5zM176.0 120.0h1.5v1.5h-1.5zM185.0 150.0h1.5v1.5h-1.5zM178.0 172.0h1.5v1.5h-1.5zM191.0 131.0h1.5v1.5h-1.5zM180.0 140.0h1.5v1.5h-1.5z" fill="#000"/>
<line x1="28.90" y1="264.00" x2="29.60" y2="486.80" stroke="#000" stroke-width="1.0"/>
<line x1="29.10" y1="486.80" x2="213.10" y2="486.20" stroke="#000" stroke-width="1.8"/>
<line x1="25.00" y1="486.80" x2="29.60" y2="486.80" stroke="#000" stroke-width="1.0"/>
<text transform="translate(21.20,486.80) rotate(-90) scale(0.9,1)" font-size="10.3" text-anchor="middle" font-weight="normal" fill="#000" font-family="'Liberation Sans', sans-serif">0</text>
<line x1="27.07" y1="478.62" x2="29.57" y2="478.62" stroke="#000" stroke-width="1.0"/>
<line x1="27.05" y1="470.44" x2="29.55" y2="470.44" stroke="#000" stroke-width="1.0"/>
<line x1="27.02" y1="462.26" x2="29.52" y2="462.26" stroke="#000" stroke-width="1.0"/>
<line x1="27.00" y1="454.08" x2="29.50" y2="454.08" stroke="#000" stroke-width="1.0"/>
<line x1="24.87" y1="445.90" x2="29.47" y2="445.90" stroke="#000" stroke-width="1.0"/>
<text transform="translate(21.07,445.90) rotate(-90) scale(0.9,1)" font-size="10.3" text-anchor="middle" font-weight="normal" fill="#000" font-family="'Liberation Sans', sans-serif">10</text>
<line x1="26.95" y1="437.72" x2="29.45" y2="437.72" stroke="#000" stroke-width="1.0"/>
<line x1="26.92" y1="429.54" x2="29.42" y2="429.54" stroke="#000" stroke-width="1.0"/>
<line x1="26.89" y1="421.36" x2="29.39" y2="421.36" stroke="#000" stroke-width="1.0"/>
<line x1="26.87" y1="413.18" x2="29.37" y2="413.18" stroke="#000" stroke-width="1.0"/>
<line x1="24.74" y1="405.00" x2="29.34" y2="405.00" stroke="#000" stroke-width="1.0"/>
<text transform="translate(20.94,405.00) rotate(-90) scale(0.9,1)" font-size="10.3" text-anchor="middle" font-weight="normal" fill="#000" font-family="'Liberation Sans', sans-serif">20</text>
<line x1="26.82" y1="396.82" x2="29.32" y2="396.82" stroke="#000" stroke-width="1.0"/>
<line x1="26.79" y1="388.64" x2="29.29" y2="388.64" stroke="#000" stroke-width="1.0"/>
<line x1="26.77" y1="380.46" x2="29.27" y2="380.46" stroke="#000" stroke-width="1.0"/>
<line x1="26.74" y1="372.28" x2="29.24" y2="372.28" stroke="#000" stroke-width="1.0"/>
<line x1="24.61" y1="364.10" x2="29.21" y2="364.10" stroke="#000" stroke-width="1.0"/>
<text transform="translate(20.81,364.10) rotate(-90) scale(0.9,1)" font-size="10.3" text-anchor="middle" font-weight="normal" fill="#000" font-family="'Liberation Sans', sans-serif">30</text>
<line x1="26.69" y1="355.92" x2="29.19" y2="355.92" stroke="#000" stroke-width="1.0"/>
<line x1="26.66" y1="347.74" x2="29.16" y2="347.74" stroke="#000" stroke-width="1.0"/>
<line x1="26.64" y1="339.56" x2="29.14" y2="339.56" stroke="#000" stroke-width="1.0"/>
<line x1="26.61" y1="331.38" x2="29.11" y2="331.38" stroke="#000" stroke-width="1.0"/>
<line x1="24.49" y1="323.20" x2="29.09" y2="323.20" stroke="#000" stroke-width="1.0"/>
<text transform="translate(20.69,323.20) rotate(-90) scale(0.9,1)" font-size="10.3" text-anchor="middle" font-weight="normal" fill="#000" font-family="'Liberation Sans', sans-serif">40</text>
<line x1="26.56" y1="315.02" x2="29.06" y2="315.02" stroke="#000" stroke-width="1.0"/>
<line x1="26.53" y1="306.84" x2="29.03" y2="306.84" stroke="#000" stroke-width="1.0"/>
<line x1="26.51" y1="298.66" x2="29.01" y2="298.66" stroke="#000" stroke-width="1.0"/>
<line x1="26.48" y1="290.48" x2="28.98" y2="290.48" stroke="#000" stroke-width="1.0"/>
<line x1="24.36" y1="282.30" x2="28.96" y2="282.30" stroke="#000" stroke-width="1.0"/>
<text transform="translate(20.56,282.30) rotate(-90) scale(0.9,1)" font-size="10.3" text-anchor="middle" font-weight="normal" fill="#000" font-family="'Liberation Sans', sans-serif">50</text>
<line x1="26.43" y1="274.12" x2="28.93" y2="274.12" stroke="#000" stroke-width="1.0"/>
<line x1="26.41" y1="265.94" x2="28.91" y2="265.94" stroke="#000" stroke-width="1.0"/>
<line x1="29.60" y1="486.80" x2="29.60" y2="491.40" stroke="#000" stroke-width="1.0"/>
<line x1="43.36" y1="486.76" x2="43.36" y2="489.76" stroke="#000" stroke-width="1.0"/>
<line x1="51.40" y1="486.73" x2="51.40" y2="489.73" stroke="#000" stroke-width="1.0"/>
<line x1="57.11" y1="486.71" x2="57.11" y2="489.71" stroke="#000" stroke-width="1.0"/>
<line x1="61.54" y1="486.70" x2="61.54" y2="489.70" stroke="#000" stroke-width="1.0"/>
<line x1="65.16" y1="486.68" x2="65.16" y2="489.68" stroke="#000" stroke-width="1.0"/>
<line x1="68.22" y1="486.67" x2="68.22" y2="489.67" stroke="#000" stroke-width="1.0"/>
<line x1="70.87" y1="486.67" x2="70.87" y2="489.67" stroke="#000" stroke-width="1.0"/>
<line x1="73.21" y1="486.66" x2="73.21" y2="489.66" stroke="#000" stroke-width="1.0"/>
<line x1="75.30" y1="486.65" x2="75.30" y2="491.25" stroke="#000" stroke-width="1.0"/>
<line x1="89.06" y1="486.61" x2="89.06" y2="489.61" stroke="#000" stroke-width="1.0"/>
<line x1="97.10" y1="486.58" x2="97.10" y2="489.58" stroke="#000" stroke-width="1.0"/>
<line x1="102.81" y1="486.56" x2="102.81" y2="489.56" stroke="#000" stroke-width="1.0"/>
<line x1="107.24" y1="486.55" x2="107.24" y2="489.55" stroke="#000" stroke-width="1.0"/>
<line x1="110.86" y1="486.53" x2="110.86" y2="489.53" stroke="#000" stroke-width="1.0"/>
<line x1="113.92" y1="486.52" x2="113.92" y2="489.52" stroke="#000" stroke-width="1.0"/>
<line x1="116.57" y1="486.52" x2="116.57" y2="489.52" stroke="#000" stroke-width="1.0"/>
<line x1="118.91" y1="486.51" x2="118.91" y2="489.51" stroke="#000" stroke-width="1.0"/>
<line x1="121.00" y1="486.50" x2="121.00" y2="491.10" stroke="#000" stroke-width="1.0"/>
<line x1="134.76" y1="486.46" x2="134.76" y2="489.46" stroke="#000" stroke-width="1.0"/>
<line x1="142.80" y1="486.43" x2="142.80" y2="489.43" stroke="#000" stroke-width="1.0"/>
<line x1="148.51" y1="486.41" x2="148.51" y2="489.41" stroke="#000" stroke-width="1.0"/>
<line x1="152.94" y1="486.40" x2="152.94" y2="489.40" stroke="#000" stroke-width="1.0"/>
<line x1="156.56" y1="486.38" x2="156.56" y2="489.38" stroke="#000" stroke-width="1.0"/>
<line x1="159.62" y1="486.37" x2="159.62" y2="489.37" stroke="#000" stroke-width="1.0"/>
<line x1="162.27" y1="486.37" x2="162.27" y2="489.37" stroke="#000" stroke-width="1.0"/>
<line x1="164.61" y1="486.36" x2="164.61" y2="489.36" stroke="#000" stroke-width="1.0"/>
<line x1="166.70" y1="486.35" x2="166.70" y2="490.95" stroke="#000" stroke-width="1.0"/>
<line x1="180.46" y1="486.31" x2="180.46" y2="489.31" stroke="#000" stroke-width="1.0"/>
<line x1="188.50" y1="486.28" x2="188.50" y2="489.28" stroke="#000" stroke-width="1.0"/>
<line x1="194.21" y1="486.26" x2="194.21" y2="489.26" stroke="#000" stroke-width="1.0"/>
<line x1="198.64" y1="486.25" x2="198.64" y2="489.25" stroke="#000" stroke-width="1.0"/>
<line x1="202.26" y1="486.24" x2="202.26" y2="489.24" stroke="#000" stroke-width="1.0"/>
<line x1="205.32" y1="486.23" x2="205.32" y2="489.23" stroke="#000" stroke-width="1.0"/>
<line x1="207.97" y1="486.22" x2="207.97" y2="489.22" stroke="#000" stroke-width="1.0"/>
<line x1="210.31" y1="486.21" x2="210.31" y2="489.21" stroke="#000" stroke-width="1.0"/>
<line x1="212.40" y1="486.20" x2="212.40" y2="491.20" stroke="#000" stroke-width="1.0"/>
<text transform="translate(28.20,503.60) scale(0.85,1)" font-size="10.5" text-anchor="middle" font-weight="normal" fill="#000" font-family="'Liberation Sans', sans-serif">10</text>
<text transform="translate(32.60,498.30) scale(0.85,1)" font-size="10.5" text-anchor="start" font-weight="normal" fill="#000" font-family="'Liberation Sans', sans-serif">0</text>
<text transform="translate(73.90,503.45) scale(0.85,1)" font-size="10.5" text-anchor="middle" font-weight="normal" fill="#000" font-family="'Liberation Sans', sans-serif">10</text>
<text transform="translate(78.30,498.15) scale(0.85,1)" font-size="10.5" text-anchor="start" font-weight="normal" fill="#000" font-family="'Liberation Sans', sans-serif">1</text>
<text transform="translate(119.60,503.30) scale(0.85,1)" font-size="10.5" text-anchor="middle" font-weight="normal" fill="#000" font-family="'Liberation Sans', sans-serif">10</text>
<text transform="translate(124.00,498.00) scale(0.85,1)" font-size="10.5" text-anchor="start" font-weight="normal" fill="#000" font-family="'Liberation Sans', sans-serif">2</text>
<text transform="translate(165.30,503.15) scale(0.85,1)" font-size="10.5" text-anchor="middle" font-weight="normal" fill="#000" font-family="'Liberation Sans', sans-serif">10</text>
<text transform="translate(169.70,497.85) scale(0.85,1)" font-size="10.5" text-anchor="start" font-weight="normal" fill="#000" font-family="'Liberation Sans', sans-serif">3</text>
<text transform="translate(211.00,503.00) scale(0.85,1)" font-size="10.5" text-anchor="middle" font-weight="normal" fill="#000" font-family="'Liberation Sans', sans-serif">10</text>
<text transform="translate(215.40,497.70) scale(0.85,1)" font-size="10.5" text-anchor="start" font-weight="normal" fill="#000" font-family="'Liberation Sans', sans-serif">4</text>
<text transform="translate(82.40,520.20)" font-size="13.5" text-anchor="start" font-weight="normal" fill="#000" font-family="'Liberation Sans', sans-serif">Phalloidin FITC</text>
<text transform="translate(8.90,378.40) rotate(-90)" font-size="10.2" text-anchor="middle" font-weight="normal" fill="#000" font-family="'Liberation Sans', sans-serif">Counts</text>
<text transform="translate(37.60,286.60) scale(0.93,1)" font-size="43" text-anchor="start" font-weight="bold" fill="#000" font-family="'Liberation Sans', sans-serif">B</text>
<polyline points="29.60,486.40 118.50,486.40 119.60,481.20 124.60,481.20 125.40,478.80 126.50,474.20 128.00,468.80 129.20,465.00 131.20,447.00 133.30,426.00 134.40,410.00 134.90,391.00 135.40,376.00 135.80,361.00 136.60,345.00 137.70,332.00 139.20,316.00 140.40,308.00 140.40,299.30 141.30,299.30 141.30,284.00 142.50,283.00 142.50,275.80 144.40,275.80 144.40,270.00 145.90,270.00 145.90,264.70 146.80,264.70 147.30,273.40 148.30,275.30 148.30,296.50 149.20,298.40 149.20,308.00 150.30,316.00 152.30,331.00 153.00,345.00 155.00,360.00 155.50,376.00 157.00,388.00 158.70,405.00 160.80,426.00 164.00,436.00 165.60,440.00 166.30,450.00 168.10,461.30 169.40,468.00 170.50,464.50 171.50,467.00 173.10,473.10 175.60,476.90 180.00,476.90 181.30,480.60 186.90,480.60 188.10,486.30" fill="none" stroke="#000" stroke-width="1.2" stroke-linejoin="miter"/>
<polyline points="118.50,486.40 119.60,481.20 124.20,481.20 125.20,486.40 132.70,486.40 133.80,481.20 136.90,481.20 138.00,486.40 141.90,486.40 143.80,480.00 146.20,473.00 147.70,465.00 149.80,447.00 152.30,426.00 153.60,410.00 154.20,391.00 155.00,376.00 155.40,360.00 156.20,345.00 157.00,332.00 158.90,316.00 159.30,308.00 159.30,302.20 160.60,300.30 160.60,284.00 161.70,283.00 161.70,271.50 162.20,265.20 165.10,265.20 165.10,268.60 166.50,267.60 166.50,271.50 167.50,271.50 167.50,289.70 168.90,290.70 168.90,308.00 170.00,316.00 171.20,332.00 172.30,345.00 174.20,360.00 175.70,376.00 177.00,391.00 178.10,405.00 180.90,420.00 183.00,426.00 185.00,440.00 186.30,447.50 188.10,451.90 190.60,455.60 192.50,461.30 194.40,468.80 196.30,473.80 198.10,478.80 199.40,480.60 201.30,480.60 203.10,486.20" fill="none" stroke="#000" stroke-width="2.0" stroke-linejoin="miter"/>
<line x1="31.20" y1="548.80" x2="32.70" y2="773.40" stroke="#000" stroke-width="1.0"/>
<line x1="32.20" y1="773.40" x2="213.00" y2="772.60" stroke="#000" stroke-width="1.8"/>
<line x1="28.10" y1="773.40" x2="32.70" y2="773.40" stroke="#000" stroke-width="1.0"/>
<text transform="translate(24.10,773.40) rotate(-90) scale(0.9,1)" font-size="10.3" text-anchor="middle" font-weight="normal" fill="#000" font-family="'Liberation Sans', sans-serif">0</text>
<line x1="30.14" y1="765.12" x2="32.64" y2="765.12" stroke="#000" stroke-width="1.0"/>
<line x1="30.09" y1="756.85" x2="32.59" y2="756.85" stroke="#000" stroke-width="1.0"/>
<line x1="30.03" y1="748.57" x2="32.53" y2="748.57" stroke="#000" stroke-width="1.0"/>
<line x1="29.98" y1="740.30" x2="32.48" y2="740.30" stroke="#000" stroke-width="1.0"/>
<line x1="27.82" y1="732.02" x2="32.42" y2="732.02" stroke="#000" stroke-width="1.0"/>
<text transform="translate(23.82,732.02) rotate(-90) scale(0.9,1)" font-size="10.3" text-anchor="middle" font-weight="normal" fill="#000" font-family="'Liberation Sans', sans-serif">10</text>
<line x1="29.87" y1="723.74" x2="32.37" y2="723.74" stroke="#000" stroke-width="1.0"/>
<line x1="29.81" y1="715.47" x2="32.31" y2="715.47" stroke="#000" stroke-width="1.0"/>
<line x1="29.76" y1="707.19" x2="32.26" y2="707.19" stroke="#000" stroke-width="1.0"/>
<line x1="29.70" y1="698.92" x2="32.20" y2="698.92" stroke="#000" stroke-width="1.0"/>
<line x1="27.55" y1="690.64" x2="32.15" y2="690.64" stroke="#000" stroke-width="1.0"/>
<text transform="translate(23.55,690.64) rotate(-90) scale(0.9,1)" font-size="10.3" text-anchor="middle" font-weight="normal" fill="#000" font-family="'Liberation Sans', sans-serif">20</text>
<line x1="29.59" y1="682.36" x2="32.09" y2="682.36" stroke="#000" stroke-width="1.0"/>
<line x1="29.54" y1="674.09" x2="32.04" y2="674.09" stroke="#000" stroke-width="1.0"/>
<line x1="29.48" y1="665.81" x2="31.98" y2="665.81" stroke="#000" stroke-width="1.0"/>
<line x1="29.43" y1="657.54" x2="31.93" y2="657.54" stroke="#000" stroke-width="1.0"/>
<line x1="27.27" y1="649.26" x2="31.87" y2="649.26" stroke="#000" stroke-width="1.0"/>
<text transform="translate(23.27,649.26) rotate(-90) scale(0.9,1)" font-size="10.3" text-anchor="middle" font-weight="normal" fill="#000" font-family="'Liberation Sans', sans-serif">30</text>
<line x1="29.32" y1="640.98" x2="31.82" y2="640.98" stroke="#000" stroke-width="1.0"/>
<line x1="29.26" y1="632.71" x2="31.76" y2="632.71" stroke="#000" stroke-width="1.0"/>
<line x1="29.21" y1="624.43" x2="31.71" y2="624.43" stroke="#000" stroke-width="1.0"/>
<line x1="29.15" y1="616.16" x2="31.65" y2="616.16" stroke="#000" stroke-width="1.0"/>
<line x1="26.99" y1="607.88" x2="31.59" y2="607.88" stroke="#000" stroke-width="1.0"/>
<text transform="translate(22.99,607.88) rotate(-90) scale(0.9,1)" font-size="10.3" text-anchor="middle" font-weight="normal" fill="#000" font-family="'Liberation Sans', sans-serif">40</text>
<line x1="29.04" y1="599.60" x2="31.54" y2="599.60" stroke="#000" stroke-width="1.0"/>
<line x1="28.98" y1="591.33" x2="31.48" y2="591.33" stroke="#000" stroke-width="1.0"/>
<line x1="28.93" y1="583.05" x2="31.43" y2="583.05" stroke="#000" stroke-width="1.0"/>
<line x1="28.87" y1="574.78" x2="31.37" y2="574.78" stroke="#000" stroke-width="1.0"/>
<line x1="26.72" y1="566.50" x2="31.32" y2="566.50" stroke="#000" stroke-width="1.0"/>
<text transform="translate(22.72,566.50) rotate(-90) scale(0.9,1)" font-size="10.3" text-anchor="middle" font-weight="normal" fill="#000" font-family="'Liberation Sans', sans-serif">50</text>
<line x1="28.76" y1="558.22" x2="31.26" y2="558.22" stroke="#000" stroke-width="1.0"/>
<line x1="28.71" y1="549.95" x2="31.21" y2="549.95" stroke="#000" stroke-width="1.0"/>
<line x1="33.00" y1="773.40" x2="33.00" y2="778.00" stroke="#000" stroke-width="1.0"/>
<line x1="46.52" y1="773.34" x2="46.52" y2="776.34" stroke="#000" stroke-width="1.0"/>
<line x1="54.42" y1="773.30" x2="54.42" y2="776.30" stroke="#000" stroke-width="1.0"/>
<line x1="60.03" y1="773.28" x2="60.03" y2="776.28" stroke="#000" stroke-width="1.0"/>
<line x1="64.38" y1="773.26" x2="64.38" y2="776.26" stroke="#000" stroke-width="1.0"/>
<line x1="67.94" y1="773.24" x2="67.94" y2="776.24" stroke="#000" stroke-width="1.0"/>
<line x1="70.94" y1="773.23" x2="70.94" y2="776.23" stroke="#000" stroke-width="1.0"/>
<line x1="73.55" y1="773.22" x2="73.55" y2="776.22" stroke="#000" stroke-width="1.0"/>
<line x1="75.85" y1="773.21" x2="75.85" y2="776.21" stroke="#000" stroke-width="1.0"/>
<line x1="77.90" y1="773.20" x2="77.90" y2="777.80" stroke="#000" stroke-width="1.0"/>
<line x1="91.42" y1="773.14" x2="91.42" y2="776.14" stroke="#000" stroke-width="1.0"/>
<line x1="99.32" y1="773.11" x2="99.32" y2="776.11" stroke="#000" stroke-width="1.0"/>
<line x1="104.93" y1="773.08" x2="104.93" y2="776.08" stroke="#000" stroke-width="1.0"/>
<line x1="109.28" y1="773.06" x2="109.28" y2="776.06" stroke="#000" stroke-width="1.0"/>
<line x1="112.84" y1="773.05" x2="112.84" y2="776.05" stroke="#000" stroke-width="1.0"/>
<line x1="115.84" y1="773.03" x2="115.84" y2="776.03" stroke="#000" stroke-width="1.0"/>
<line x1="118.45" y1="773.02" x2="118.45" y2="776.02" stroke="#000" stroke-width="1.0"/>
<line x1="120.75" y1="773.01" x2="120.75" y2="776.01" stroke="#000" stroke-width="1.0"/>
<line x1="122.80" y1="773.00" x2="122.80" y2="777.60" stroke="#000" stroke-width="1.0"/>
<line x1="136.32" y1="772.94" x2="136.32" y2="775.94" stroke="#000" stroke-width="1.0"/>
<line x1="144.22" y1="772.91" x2="144.22" y2="775.91" stroke="#000" stroke-width="1.0"/>
<line x1="149.83" y1="772.88" x2="149.83" y2="775.88" stroke="#000" stroke-width="1.0"/>
<line x1="154.18" y1="772.86" x2="154.18" y2="775.86" stroke="#000" stroke-width="1.0"/>
<line x1="157.74" y1="772.85" x2="157.74" y2="775.85" stroke="#000" stroke-width="1.0"/>
<line x1="160.74" y1="772.83" x2="160.74" y2="775.83" stroke="#000" stroke-width="1.0"/>
<line x1="163.35" y1="772.82" x2="163.35" y2="775.82" stroke="#000" stroke-width="1.0"/>
<line x1="165.65" y1="772.81" x2="165.65" y2="775.81" stroke="#000" stroke-width="1.0"/>
<line x1="167.70" y1="772.80" x2="167.70" y2="777.40" stroke="#000" stroke-width="1.0"/>
<line x1="181.22" y1="772.74" x2="181.22" y2="775.74" stroke="#000" stroke-width="1.0"/>
<line x1="189.12" y1="772.71" x2="189.12" y2="775.71" stroke="#000" stroke-width="1.0"/>
<line x1="194.73" y1="772.68" x2="194.73" y2="775.68" stroke="#000" stroke-width="1.0"/>
<line x1="199.08" y1="772.66" x2="199.08" y2="775.66" stroke="#000" stroke-width="1.0"/>
<line x1="202.64" y1="772.65" x2="202.64" y2="775.65" stroke="#000" stroke-width="1.0"/>
<line x1="205.64" y1="772.63" x2="205.64" y2="775.63" stroke="#000" stroke-width="1.0"/>
<line x1="208.25" y1="772.62" x2="208.25" y2="775.62" stroke="#000" stroke-width="1.0"/>
<line x1="210.55" y1="772.61" x2="210.55" y2="775.61" stroke="#000" stroke-width="1.0"/>
<line x1="212.60" y1="772.60" x2="212.60" y2="777.60" stroke="#000" stroke-width="1.0"/>
<text transform="translate(31.60,790.20) scale(0.85,1)" font-size="10.5" text-anchor="middle" font-weight="normal" fill="#000" font-family="'Liberation Sans', sans-serif">10</text>
<text transform="translate(36.00,784.90) scale(0.85,1)" font-size="10.5" text-anchor="start" font-weight="normal" fill="#000" font-family="'Liberation Sans', sans-serif">0</text>
<text transform="translate(76.50,790.00) scale(0.85,1)" font-size="10.5" text-anchor="middle" font-weight="normal" fill="#000" font-family="'Liberation Sans', sans-serif">10</text>
<text transform="translate(80.90,784.70) scale(0.85,1)" font-size="10.5" text-anchor="start" font-weight="normal" fill="#000" font-family="'Liberation Sans', sans-serif">1</text>
<text transform="translate(121.40,789.80) scale(0.85,1)" font-size="10.5" text-anchor="middle" font-weight="normal" fill="#000" font-family="'Liberation Sans', sans-serif">10</text>
<text transform="translate(125.80,784.50) scale(0.85,1)" font-size="10.5" text-anchor="start" font-weight="normal" fill="#000" font-family="'Liberation Sans', sans-serif">2</text>
<text transform="translate(166.30,789.60) scale(0.85,1)" font-size="10.5" text-anchor="middle" font-weight="normal" fill="#000" font-family="'Liberation Sans', sans-serif">10</text>
<text transform="translate(170.70,784.30) scale(0.85,1)" font-size="10.5" text-anchor="start" font-weight="normal" fill="#000" font-family="'Liberation Sans', sans-serif">3</text>
<text transform="translate(211.20,789.40) scale(0.85,1)" font-size="10.5" text-anchor="middle" font-weight="normal" fill="#000" font-family="'Liberation Sans', sans-serif">10</text>
<text transform="translate(215.60,784.10) scale(0.85,1)" font-size="10.5" text-anchor="start" font-weight="normal" fill="#000" font-family="'Liberation Sans', sans-serif">4</text>
<text transform="translate(68.20,807.50)" font-size="13.5" text-anchor="start" font-weight="normal" fill="#000" font-family="'Liberation Sans', sans-serif">Phalloidin FITC</text>
<text transform="translate(13.00,663.50) rotate(-90)" font-size="10.2" text-anchor="middle" font-weight="normal" fill="#000" font-family="'Liberation Sans', sans-serif">Counts</text>
<text transform="translate(38.30,576.60) scale(0.96,1)" font-size="43" text-anchor="start" font-weight="bold" fill="#000" font-family="'Liberation Sans', sans-serif">C</text>
<polyline points="33.00,772.40 120.60,772.40 121.50,767.90 128.00,767.90 129.30,761.00 130.60,754.00 131.90,748.00 132.70,741.90 133.20,735.00 134.20,713.00 135.80,693.00 136.50,675.00 136.90,660.00 137.70,645.00 138.20,630.00 138.80,618.00 139.70,609.00 141.20,594.00 141.70,592.00 141.70,582.40 142.50,580.50 142.50,566.00 143.70,564.10 144.10,560.30 146.10,559.80 146.10,555.50 147.00,554.50 147.50,549.70 148.50,552.60 148.50,567.00 149.40,568.00 149.40,592.00 150.30,594.00 151.50,600.00 153.00,609.00 154.20,620.00 154.60,640.00 155.00,656.00 157.70,675.00 159.50,690.00 161.20,705.00 163.50,720.00 165.80,721.00 167.50,736.10 169.20,745.40 171.00,753.40 172.70,751.10 174.40,754.60 176.10,761.50 177.30,763.80 181.90,763.80 183.60,767.30 187.70,767.30 189.40,772.40" fill="none" stroke="#000" stroke-width="1.2" stroke-linejoin="miter"/>
<polyline points="136.20,772.40 136.60,769.60 137.90,766.10 143.10,766.10 144.00,761.00 145.30,760.10 146.60,757.50 147.90,752.30 148.30,743.70 149.20,735.00 149.60,713.00 151.20,692.00 152.80,675.00 154.60,656.00 154.60,640.00 155.40,620.00 155.80,604.00 156.50,592.00 157.10,588.20 158.10,586.20 158.60,581.40 159.50,579.50 159.50,567.00 160.50,565.00 160.50,560.30 161.00,560.00 161.00,552.00 162.60,549.30 164.30,552.00 164.30,560.00 164.80,564.10 165.80,567.00 166.70,569.40 168.20,571.80 168.20,582.40 169.10,584.30 169.10,592.00 169.20,594.00 171.20,609.00 172.50,618.00 173.10,630.00 174.30,645.00 176.90,650.00 177.70,660.00 180.00,675.00 181.40,692.00 184.20,705.00 186.50,720.00 187.70,728.10 189.40,736.10 190.60,743.10 191.70,750.00 192.90,753.40 194.60,754.60 195.80,758.10 196.90,763.80 198.10,766.10 198.60,761.00 200.40,761.00 201.50,764.40 203.30,766.10 205.00,768.40 206.10,771.30 207.30,766.10 209.00,766.10 210.20,769.60 211.30,772.40" fill="none" stroke="#000" stroke-width="2.0" stroke-linejoin="miter"/>
<polyline points="162.60,550.50 162.60,560.00" fill="none" stroke="#000" stroke-width="2.0" stroke-linejoin="miter"/>
<line x1="268.30" y1="265.50" x2="269.40" y2="488.80" stroke="#000" stroke-width="1.0"/>
<line x1="268.90" y1="488.80" x2="508.00" y2="488.50" stroke="#000" stroke-width="1.8"/>
<line x1="264.80" y1="488.80" x2="269.40" y2="488.80" stroke="#000" stroke-width="1.0"/>
<text transform="translate(261.60,488.80) rotate(-90) scale(0.9,1)" font-size="10.3" text-anchor="middle" font-weight="normal" fill="#000" font-family="'Liberation Sans', sans-serif">0</text>
<line x1="266.86" y1="479.88" x2="269.36" y2="479.88" stroke="#000" stroke-width="1.0"/>
<line x1="266.81" y1="470.96" x2="269.31" y2="470.96" stroke="#000" stroke-width="1.0"/>
<line x1="266.77" y1="462.04" x2="269.27" y2="462.04" stroke="#000" stroke-width="1.0"/>
<line x1="266.72" y1="453.12" x2="269.22" y2="453.12" stroke="#000" stroke-width="1.0"/>
<line x1="264.58" y1="444.20" x2="269.18" y2="444.20" stroke="#000" stroke-width="1.0"/>
<text transform="translate(261.38,444.20) rotate(-90) scale(0.9,1)" font-size="10.3" text-anchor="middle" font-weight="normal" fill="#000" font-family="'Liberation Sans', sans-serif">10</text>
<line x1="266.64" y1="435.28" x2="269.14" y2="435.28" stroke="#000" stroke-width="1.0"/>
<line x1="266.59" y1="426.36" x2="269.09" y2="426.36" stroke="#000" stroke-width="1.0"/>
<line x1="266.55" y1="417.44" x2="269.05" y2="417.44" stroke="#000" stroke-width="1.0"/>
<line x1="266.50" y1="408.52" x2="269.00" y2="408.52" stroke="#000" stroke-width="1.0"/>
<line x1="264.36" y1="399.60" x2="268.96" y2="399.60" stroke="#000" stroke-width="1.0"/>
<text transform="translate(261.16,399.60) rotate(-90) scale(0.9,1)" font-size="10.3" text-anchor="middle" font-weight="normal" fill="#000" font-family="'Liberation Sans', sans-serif">20</text>
<line x1="266.42" y1="390.68" x2="268.92" y2="390.68" stroke="#000" stroke-width="1.0"/>
<line x1="266.37" y1="381.76" x2="268.87" y2="381.76" stroke="#000" stroke-width="1.0"/>
<line x1="266.33" y1="372.84" x2="268.83" y2="372.84" stroke="#000" stroke-width="1.0"/>
<line x1="266.28" y1="363.92" x2="268.78" y2="363.92" stroke="#000" stroke-width="1.0"/>
<line x1="264.14" y1="355.00" x2="268.74" y2="355.00" stroke="#000" stroke-width="1.0"/>
<text transform="translate(260.94,355.00) rotate(-90) scale(0.9,1)" font-size="10.3" text-anchor="middle" font-weight="normal" fill="#000" font-family="'Liberation Sans', sans-serif">30</text>
<line x1="266.20" y1="346.08" x2="268.70" y2="346.08" stroke="#000" stroke-width="1.0"/>
<line x1="266.15" y1="337.16" x2="268.65" y2="337.16" stroke="#000" stroke-width="1.0"/>
<line x1="266.11" y1="328.24" x2="268.61" y2="328.24" stroke="#000" stroke-width="1.0"/>
<line x1="266.07" y1="319.32" x2="268.57" y2="319.32" stroke="#000" stroke-width="1.0"/>
<line x1="263.92" y1="310.40" x2="268.52" y2="310.40" stroke="#000" stroke-width="1.0"/>
<text transform="translate(260.72,310.40) rotate(-90) scale(0.9,1)" font-size="10.3" text-anchor="middle" font-weight="normal" fill="#000" font-family="'Liberation Sans', sans-serif">40</text>
<line x1="265.98" y1="301.48" x2="268.48" y2="301.48" stroke="#000" stroke-width="1.0"/>
<line x1="265.93" y1="292.56" x2="268.43" y2="292.56" stroke="#000" stroke-width="1.0"/>
<line x1="265.89" y1="283.64" x2="268.39" y2="283.64" stroke="#000" stroke-width="1.0"/>
<line x1="265.85" y1="274.72" x2="268.35" y2="274.72" stroke="#000" stroke-width="1.0"/>
<line x1="263.70" y1="265.80" x2="268.30" y2="265.80" stroke="#000" stroke-width="1.0"/>
<text transform="translate(260.50,265.80) rotate(-90) scale(0.9,1)" font-size="10.3" text-anchor="middle" font-weight="normal" fill="#000" font-family="'Liberation Sans', sans-serif">50</text>
<line x1="269.40" y1="488.80" x2="269.40" y2="493.40" stroke="#000" stroke-width="1.0"/>
<line x1="287.34" y1="488.78" x2="287.34" y2="491.78" stroke="#000" stroke-width="1.0"/>
<line x1="297.84" y1="488.76" x2="297.84" y2="491.76" stroke="#000" stroke-width="1.0"/>
<line x1="305.28" y1="488.75" x2="305.28" y2="491.75" stroke="#000" stroke-width="1.0"/>
<line x1="311.06" y1="488.75" x2="311.06" y2="491.75" stroke="#000" stroke-width="1.0"/>
<line x1="315.78" y1="488.74" x2="315.78" y2="491.74" stroke="#000" stroke-width="1.0"/>
<line x1="319.77" y1="488.74" x2="319.77" y2="491.74" stroke="#000" stroke-width="1.0"/>
<line x1="323.22" y1="488.73" x2="323.22" y2="491.73" stroke="#000" stroke-width="1.0"/>
<line x1="326.27" y1="488.73" x2="326.27" y2="491.73" stroke="#000" stroke-width="1.0"/>
<line x1="329.00" y1="488.73" x2="329.00" y2="493.33" stroke="#000" stroke-width="1.0"/>
<line x1="346.94" y1="488.70" x2="346.94" y2="491.70" stroke="#000" stroke-width="1.0"/>
<line x1="357.44" y1="488.69" x2="357.44" y2="491.69" stroke="#000" stroke-width="1.0"/>
<line x1="364.88" y1="488.68" x2="364.88" y2="491.68" stroke="#000" stroke-width="1.0"/>
<line x1="370.66" y1="488.67" x2="370.66" y2="491.67" stroke="#000" stroke-width="1.0"/>
<line x1="375.38" y1="488.67" x2="375.38" y2="491.67" stroke="#000" stroke-width="1.0"/>
<line x1="379.37" y1="488.66" x2="379.37" y2="491.66" stroke="#000" stroke-width="1.0"/>
<line x1="382.82" y1="488.66" x2="382.82" y2="491.66" stroke="#000" stroke-width="1.0"/>
<line x1="385.87" y1="488.65" x2="385.87" y2="491.65" stroke="#000" stroke-width="1.0"/>
<line x1="388.60" y1="488.65" x2="388.60" y2="493.25" stroke="#000" stroke-width="1.0"/>
<line x1="406.54" y1="488.63" x2="406.54" y2="491.63" stroke="#000" stroke-width="1.0"/>
<line x1="417.04" y1="488.61" x2="417.04" y2="491.61" stroke="#000" stroke-width="1.0"/>
<line x1="424.48" y1="488.61" x2="424.48" y2="491.61" stroke="#000" stroke-width="1.0"/>
<line x1="430.26" y1="488.60" x2="430.26" y2="491.60" stroke="#000" stroke-width="1.0"/>
<line x1="434.98" y1="488.59" x2="434.98" y2="491.59" stroke="#000" stroke-width="1.0"/>
<line x1="438.97" y1="488.59" x2="438.97" y2="491.59" stroke="#000" stroke-width="1.0"/>
<line x1="442.42" y1="488.58" x2="442.42" y2="491.58" stroke="#000" stroke-width="1.0"/>
<line x1="445.47" y1="488.58" x2="445.47" y2="491.58" stroke="#000" stroke-width="1.0"/>
<line x1="448.20" y1="488.58" x2="448.20" y2="493.18" stroke="#000" stroke-width="1.0"/>
<line x1="466.14" y1="488.55" x2="466.14" y2="491.55" stroke="#000" stroke-width="1.0"/>
<line x1="476.64" y1="488.54" x2="476.64" y2="491.54" stroke="#000" stroke-width="1.0"/>
<line x1="484.08" y1="488.53" x2="484.08" y2="491.53" stroke="#000" stroke-width="1.0"/>
<line x1="489.86" y1="488.52" x2="489.86" y2="491.52" stroke="#000" stroke-width="1.0"/>
<line x1="494.58" y1="488.52" x2="494.58" y2="491.52" stroke="#000" stroke-width="1.0"/>
<line x1="498.57" y1="488.51" x2="498.57" y2="491.51" stroke="#000" stroke-width="1.0"/>
<line x1="502.02" y1="488.51" x2="502.02" y2="491.51" stroke="#000" stroke-width="1.0"/>
<line x1="505.07" y1="488.50" x2="505.07" y2="491.50" stroke="#000" stroke-width="1.0"/>
<line x1="507.80" y1="488.50" x2="507.80" y2="493.50" stroke="#000" stroke-width="1.0"/>
<text transform="translate(268.00,505.60) scale(0.85,1)" font-size="10.5" text-anchor="middle" font-weight="normal" fill="#000" font-family="'Liberation Sans', sans-serif">10</text>
<text transform="translate(272.40,500.30) scale(0.85,1)" font-size="10.5" text-anchor="start" font-weight="normal" fill="#000" font-family="'Liberation Sans', sans-serif">0</text>
<text transform="translate(327.60,505.53) scale(0.85,1)" font-size="10.5" text-anchor="middle" font-weight="normal" fill="#000" font-family="'Liberation Sans', sans-serif">10</text>
<text transform="translate(332.00,500.23) scale(0.85,1)" font-size="10.5" text-anchor="start" font-weight="normal" fill="#000" font-family="'Liberation Sans', sans-serif">1</text>
<text transform="translate(387.20,505.45) scale(0.85,1)" font-size="10.5" text-anchor="middle" font-weight="normal" fill="#000" font-family="'Liberation Sans', sans-serif">10</text>
<text transform="translate(391.60,500.15) scale(0.85,1)" font-size="10.5" text-anchor="start" font-weight="normal" fill="#000" font-family="'Liberation Sans', sans-serif">2</text>
<text transform="translate(446.80,505.38) scale(0.85,1)" font-size="10.5" text-anchor="middle" font-weight="normal" fill="#000" font-family="'Liberation Sans', sans-serif">10</text>
<text transform="translate(451.20,500.08) scale(0.85,1)" font-size="10.5" text-anchor="start" font-weight="normal" fill="#000" font-family="'Liberation Sans', sans-serif">3</text>
<text transform="translate(506.40,505.30) scale(0.85,1)" font-size="10.5" text-anchor="middle" font-weight="normal" fill="#000" font-family="'Liberation Sans', sans-serif">10</text>
<text transform="translate(510.80,500.00) scale(0.85,1)" font-size="10.5" text-anchor="start" font-weight="normal" fill="#000" font-family="'Liberation Sans', sans-serif">4</text>
<text transform="translate(357.30,520.80)" font-size="13.5" text-anchor="start" font-weight="normal" fill="#000" font-family="'Liberation Sans', sans-serif">Phalloidin FITC</text>
<text transform="translate(249.30,379.70) rotate(-90)" font-size="10.2" text-anchor="middle" font-weight="normal" fill="#000" font-family="'Liberation Sans', sans-serif">Counts</text>
<text transform="translate(281.50,287.40) scale(0.915,1)" font-size="43" text-anchor="start" font-weight="bold" fill="#000" font-family="'Liberation Sans', sans-serif">D</text>
<polyline points="269.40,488.80 307.30,488.80 307.90,483.10 309.90,483.10 310.50,488.80 319.20,488.80 320.00,483.10 324.10,483.10 324.90,488.80 329.10,488.80 329.70,483.10 331.70,483.10 332.30,488.80 368.30,488.80 369.00,481.60 376.70,481.60 381.00,479.50 382.70,475.00 384.30,465.00 386.60,456.00 390.30,445.00 392.00,440.00 393.00,430.00 395.00,420.00 396.90,400.00 399.20,380.00 402.70,360.00 403.90,345.00 405.00,338.00 405.40,324.00 406.00,312.00 407.00,303.10 407.50,291.50 408.90,286.70 410.40,283.80 411.30,279.00 412.30,275.70 413.80,274.20 415.20,272.30 415.20,267.50 416.30,264.60 417.30,266.50 417.90,277.10 418.60,279.00 418.80,297.30 420.00,301.20 420.70,312.00 421.50,324.00 422.30,340.00 422.60,359.00 426.20,380.00 428.50,400.00 430.50,417.00 432.30,430.00 433.20,440.00 434.90,448.10 437.20,459.60 438.90,467.70 440.70,475.20 445.30,475.20 447.00,480.90 454.50,480.90 456.20,488.50" fill="none" stroke="#000" stroke-width="1.2" stroke-linejoin="miter"/>
<polyline points="300.60,488.80 301.20,483.10 303.80,483.10 304.40,488.80 368.30,488.80 369.00,481.60 377.80,481.60 378.50,488.80 387.30,488.80 388.00,483.10 390.40,483.10 391.10,488.80 403.20,488.80 404.90,483.30 411.30,483.30 412.40,480.40 414.10,476.90 415.30,472.30 415.90,463.10 417.00,451.50 418.20,440.00 418.90,430.00 420.00,417.00 420.40,400.00 421.00,380.00 421.90,360.00 422.10,340.00 422.40,324.00 423.60,312.00 424.30,305.00 424.80,296.30 425.30,286.70 426.00,283.80 426.30,275.70 427.20,274.20 427.70,268.50 428.20,265.50 431.00,265.50 431.00,268.50 432.00,274.20 433.00,281.90 433.90,283.80 434.40,290.60 434.90,293.50 435.20,305.00 436.00,315.00 437.40,324.00 438.80,347.00 441.00,370.00 441.80,378.00 443.50,392.00 446.20,410.00 448.70,440.00 450.50,451.50 452.20,460.80 453.90,464.80 455.70,459.60 458.00,456.10 458.90,455.80 462.30,455.80 465.80,463.80 469.30,467.30 471.60,476.50 476.00,482.30 485.40,482.30 486.00,488.50" fill="none" stroke="#000" stroke-width="2.0" stroke-linejoin="miter"/>
<line x1="271.30" y1="547.30" x2="273.30" y2="773.40" stroke="#000" stroke-width="1.0"/>
<line x1="272.80" y1="773.40" x2="512.30" y2="773.10" stroke="#000" stroke-width="1.8"/>
<line x1="268.70" y1="773.40" x2="273.30" y2="773.40" stroke="#000" stroke-width="1.0"/>
<text transform="translate(264.70,773.40) rotate(-90) scale(0.9,1)" font-size="10.3" text-anchor="middle" font-weight="normal" fill="#000" font-family="'Liberation Sans', sans-serif">0</text>
<line x1="270.69" y1="761.22" x2="273.19" y2="761.22" stroke="#000" stroke-width="1.0"/>
<line x1="270.58" y1="749.04" x2="273.08" y2="749.04" stroke="#000" stroke-width="1.0"/>
<line x1="270.48" y1="736.86" x2="272.98" y2="736.86" stroke="#000" stroke-width="1.0"/>
<line x1="270.37" y1="724.68" x2="272.87" y2="724.68" stroke="#000" stroke-width="1.0"/>
<line x1="268.16" y1="712.50" x2="272.76" y2="712.50" stroke="#000" stroke-width="1.0"/>
<text transform="translate(264.16,712.50) rotate(-90) scale(0.9,1)" font-size="10.3" text-anchor="middle" font-weight="normal" fill="#000" font-family="'Liberation Sans', sans-serif">10</text>
<line x1="270.15" y1="700.32" x2="272.65" y2="700.32" stroke="#000" stroke-width="1.0"/>
<line x1="270.05" y1="688.14" x2="272.55" y2="688.14" stroke="#000" stroke-width="1.0"/>
<line x1="269.94" y1="675.96" x2="272.44" y2="675.96" stroke="#000" stroke-width="1.0"/>
<line x1="269.83" y1="663.78" x2="272.33" y2="663.78" stroke="#000" stroke-width="1.0"/>
<line x1="267.62" y1="651.60" x2="272.22" y2="651.60" stroke="#000" stroke-width="1.0"/>
<text transform="translate(263.62,651.60) rotate(-90) scale(0.9,1)" font-size="10.3" text-anchor="middle" font-weight="normal" fill="#000" font-family="'Liberation Sans', sans-serif">20</text>
<line x1="269.61" y1="639.42" x2="272.11" y2="639.42" stroke="#000" stroke-width="1.0"/>
<line x1="269.51" y1="627.24" x2="272.01" y2="627.24" stroke="#000" stroke-width="1.0"/>
<line x1="269.40" y1="615.06" x2="271.90" y2="615.06" stroke="#000" stroke-width="1.0"/>
<line x1="269.29" y1="602.88" x2="271.79" y2="602.88" stroke="#000" stroke-width="1.0"/>
<line x1="267.08" y1="590.70" x2="271.68" y2="590.70" stroke="#000" stroke-width="1.0"/>
<text transform="translate(263.08,590.70) rotate(-90) scale(0.9,1)" font-size="10.3" text-anchor="middle" font-weight="normal" fill="#000" font-family="'Liberation Sans', sans-serif">30</text>
<line x1="269.08" y1="578.52" x2="271.58" y2="578.52" stroke="#000" stroke-width="1.0"/>
<line x1="268.97" y1="566.34" x2="271.47" y2="566.34" stroke="#000" stroke-width="1.0"/>
<line x1="268.86" y1="554.16" x2="271.36" y2="554.16" stroke="#000" stroke-width="1.0"/>
<line x1="273.80" y1="773.40" x2="273.80" y2="778.00" stroke="#000" stroke-width="1.0"/>
<line x1="291.74" y1="773.38" x2="291.74" y2="776.38" stroke="#000" stroke-width="1.0"/>
<line x1="302.24" y1="773.36" x2="302.24" y2="776.36" stroke="#000" stroke-width="1.0"/>
<line x1="309.68" y1="773.35" x2="309.68" y2="776.35" stroke="#000" stroke-width="1.0"/>
<line x1="315.46" y1="773.35" x2="315.46" y2="776.35" stroke="#000" stroke-width="1.0"/>
<line x1="320.18" y1="773.34" x2="320.18" y2="776.34" stroke="#000" stroke-width="1.0"/>
<line x1="324.17" y1="773.34" x2="324.17" y2="776.34" stroke="#000" stroke-width="1.0"/>
<line x1="327.62" y1="773.33" x2="327.62" y2="776.33" stroke="#000" stroke-width="1.0"/>
<line x1="330.67" y1="773.33" x2="330.67" y2="776.33" stroke="#000" stroke-width="1.0"/>
<line x1="333.40" y1="773.33" x2="333.40" y2="777.93" stroke="#000" stroke-width="1.0"/>
<line x1="351.34" y1="773.30" x2="351.34" y2="776.30" stroke="#000" stroke-width="1.0"/>
<line x1="361.84" y1="773.29" x2="361.84" y2="776.29" stroke="#000" stroke-width="1.0"/>
<line x1="369.28" y1="773.28" x2="369.28" y2="776.28" stroke="#000" stroke-width="1.0"/>
<line x1="375.06" y1="773.27" x2="375.06" y2="776.27" stroke="#000" stroke-width="1.0"/>
<line x1="379.78" y1="773.27" x2="379.78" y2="776.27" stroke="#000" stroke-width="1.0"/>
<line x1="383.77" y1="773.26" x2="383.77" y2="776.26" stroke="#000" stroke-width="1.0"/>
<line x1="387.22" y1="773.26" x2="387.22" y2="776.26" stroke="#000" stroke-width="1.0"/>
<line x1="390.27" y1="773.25" x2="390.27" y2="776.25" stroke="#000" stroke-width="1.0"/>
<line x1="393.00" y1="773.25" x2="393.00" y2="777.85" stroke="#000" stroke-width="1.0"/>
<line x1="410.94" y1="773.23" x2="410.94" y2="776.23" stroke="#000" stroke-width="1.0"/>
<line x1="421.44" y1="773.21" x2="421.44" y2="776.21" stroke="#000" stroke-width="1.0"/>
<line x1="428.88" y1="773.20" x2="428.88" y2="776.20" stroke="#000" stroke-width="1.0"/>
<line x1="434.66" y1="773.20" x2="434.66" y2="776.20" stroke="#000" stroke-width="1.0"/>
<line x1="439.38" y1="773.19" x2="439.38" y2="776.19" stroke="#000" stroke-width="1.0"/>
<line x1="443.37" y1="773.19" x2="443.37" y2="776.19" stroke="#000" stroke-width="1.0"/>
<line x1="446.82" y1="773.18" x2="446.82" y2="776.18" stroke="#000" stroke-width="1.0"/>
<line x1="449.87" y1="773.18" x2="449.87" y2="776.18" stroke="#000" stroke-width="1.0"/>
<line x1="452.60" y1="773.18" x2="452.60" y2="777.78" stroke="#000" stroke-width="1.0"/>
<line x1="470.54" y1="773.15" x2="470.54" y2="776.15" stroke="#000" stroke-width="1.0"/>
<line x1="481.04" y1="773.14" x2="481.04" y2="776.14" stroke="#000" stroke-width="1.0"/>
<line x1="488.48" y1="773.13" x2="488.48" y2="776.13" stroke="#000" stroke-width="1.0"/>
<line x1="494.26" y1="773.12" x2="494.26" y2="776.12" stroke="#000" stroke-width="1.0"/>
<line x1="498.98" y1="773.12" x2="498.98" y2="776.12" stroke="#000" stroke-width="1.0"/>
<line x1="502.97" y1="773.11" x2="502.97" y2="776.11" stroke="#000" stroke-width="1.0"/>
<line x1="506.42" y1="773.11" x2="506.42" y2="776.11" stroke="#000" stroke-width="1.0"/>
<line x1="509.47" y1="773.10" x2="509.47" y2="776.10" stroke="#000" stroke-width="1.0"/>
<line x1="512.20" y1="773.10" x2="512.20" y2="778.10" stroke="#000" stroke-width="1.0"/>
<text transform="translate(272.40,790.20) scale(0.85,1)" font-size="10.5" text-anchor="middle" font-weight="normal" fill="#000" font-family="'Liberation Sans', sans-serif">10</text>
<text transform="translate(276.80,784.90) scale(0.85,1)" font-size="10.5" text-anchor="start" font-weight="normal" fill="#000" font-family="'Liberation Sans', sans-serif">0</text>
<text transform="translate(332.00,790.13) scale(0.85,1)" font-size="10.5" text-anchor="middle" font-weight="normal" fill="#000" font-family="'Liberation Sans', sans-serif">10</text>
<text transform="translate(336.40,784.83) scale(0.85,1)" font-size="10.5" text-anchor="start" font-weight="normal" fill="#000" font-family="'Liberation Sans', sans-serif">1</text>
<text transform="translate(391.60,790.05) scale(0.85,1)" font-size="10.5" text-anchor="middle" font-weight="normal" fill="#000" font-family="'Liberation Sans', sans-serif">10</text>
<text transform="translate(396.00,784.75) scale(0.85,1)" font-size="10.5" text-anchor="start" font-weight="normal" fill="#000" font-family="'Liberation Sans', sans-serif">2</text>
<text transform="translate(451.20,789.98) scale(0.85,1)" font-size="10.5" text-anchor="middle" font-weight="normal" fill="#000" font-family="'Liberation Sans', sans-serif">10</text>
<text transform="translate(455.60,784.68) scale(0.85,1)" font-size="10.5" text-anchor="start" font-weight="normal" fill="#000" font-family="'Liberation Sans', sans-serif">3</text>
<text transform="translate(510.80,789.90) scale(0.85,1)" font-size="10.5" text-anchor="middle" font-weight="normal" fill="#000" font-family="'Liberation Sans', sans-serif">10</text>
<text transform="translate(515.20,784.60) scale(0.85,1)" font-size="10.5" text-anchor="start" font-weight="normal" fill="#000" font-family="'Liberation Sans', sans-serif">4</text>
<text transform="translate(368.30,803.10)" font-size="13.5" text-anchor="start" font-weight="normal" fill="#000" font-family="'Liberation Sans', sans-serif">Phalloidin FITC</text>
<text transform="translate(253.60,663.30) rotate(-90)" font-size="10.2" text-anchor="middle" font-weight="normal" fill="#000" font-family="'Liberation Sans', sans-serif">Counts</text>
<text transform="translate(281.80,577.80) scale(0.875,1)" font-size="43" text-anchor="start" font-weight="bold" fill="#000" font-family="'Liberation Sans', sans-serif">E</text>
<polyline points="273.30,773.40 312.60,773.40 313.30,767.30 314.20,767.30 314.90,773.40 323.60,773.40 324.40,767.30 330.20,767.30 331.00,773.40 334.70,773.40 335.40,767.30 336.20,767.30 336.90,773.40 382.50,773.40 382.50,766.00 385.00,763.50 386.40,756.70 387.90,750.00 389.40,743.80 390.60,741.50 394.00,741.50 394.60,737.00 395.50,735.20 397.10,726.80 398.70,716.30 399.70,700.50 400.30,690.00 401.10,677.00 403.90,660.00 406.30,642.00 407.50,628.00 408.60,614.00 409.80,600.00 410.60,592.00 410.60,586.70 411.30,584.30 411.30,575.70 412.00,573.70 413.00,570.80 413.50,568.00 414.40,566.00 414.90,563.20 415.90,560.30 416.80,559.30 418.30,557.40 418.80,551.60 419.70,548.30 420.70,549.70 421.20,561.20 422.10,563.20 422.60,582.40 423.60,584.30 424.00,588.20 424.50,592.00 425.00,598.00 425.30,606.00 425.50,637.00 429.30,660.00 431.90,677.00 434.00,694.00 435.00,705.00 437.30,723.00 440.20,740.40 442.50,751.90 444.20,758.80 450.00,758.80 451.70,765.70 458.60,765.70 459.80,773.20" fill="none" stroke="#000" stroke-width="1.2" stroke-linejoin="miter"/>
<polyline points="363.40,773.40 364.00,768.00 364.80,768.00 364.80,764.40 366.30,764.40 366.30,768.00 366.80,768.00 367.20,773.40 372.50,773.40 373.20,768.00 374.40,768.00 374.40,764.40 382.10,764.40 382.10,768.00 383.00,768.00 383.60,773.40 391.70,773.40 392.40,768.00 392.70,764.40 397.50,764.40 397.80,768.00 398.50,773.40 401.30,773.40 402.40,764.60 404.50,764.60 405.50,761.40 406.60,756.20 413.40,756.20 413.90,753.00 415.00,748.80 416.50,746.70 417.60,741.50 419.20,737.30 419.70,726.80 420.70,723.60 421.30,708.90 421.80,695.30 422.80,688.00 423.30,677.00 424.70,660.00 425.30,642.00 425.90,625.00 425.30,614.00 425.30,605.00 426.40,592.00 426.40,586.20 427.20,584.30 427.20,570.80 427.90,569.90 427.90,559.80 429.30,558.30 429.30,551.60 429.80,548.50 434.60,548.50 434.80,551.60 434.80,558.80 436.10,559.80 436.10,569.90 437.00,570.80 437.00,585.30 438.30,586.70 438.30,592.00 438.80,600.00 439.70,614.00 440.60,625.00 442.00,642.00 443.70,660.00 445.40,677.00 447.70,700.00 449.40,711.50 451.10,720.80 452.90,732.30 454.00,740.40 459.20,740.40 461.00,748.40 462.10,756.50 465.00,756.50 465.60,748.40 466.70,748.40 468.40,756.50 470.20,762.30 471.30,764.60 472.50,764.60 472.50,773.00 472.50,764.60 485.70,764.60 486.90,773.00" fill="none" stroke="#000" stroke-width="2.0" stroke-linejoin="miter"/>
</svg>
</body></html>
